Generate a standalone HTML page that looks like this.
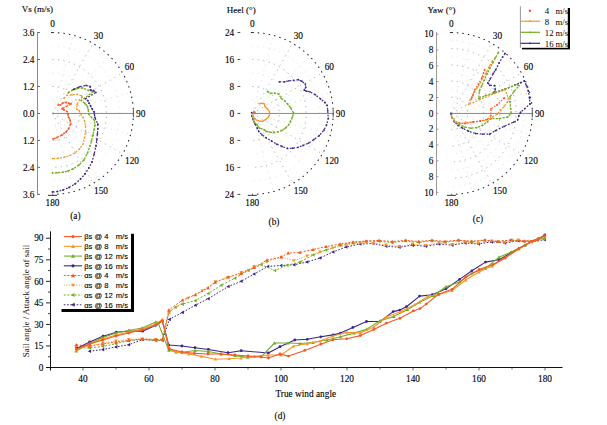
<!DOCTYPE html>
<html><head><meta charset="utf-8"><style>
html,body{margin:0;padding:0;background:#fff;}
body{width:607px;height:425px;position:relative;overflow:hidden;font-family:"Liberation Serif",serif;}
</style></head><body>
<svg width="607" height="425" viewBox="0 0 607 425" style="position:absolute;left:0;top:0">
<path d="M52.5,99.97 A13.48,13.48 0 0 1 52.5,126.93" fill="none" stroke="#d8d8e0" stroke-width="0.8" stroke-dasharray="1,4.5"/>
<path d="M52.5,73 A40.45,40.45 0 0 1 52.5,153.9" fill="none" stroke="#d8d8e0" stroke-width="0.8" stroke-dasharray="1,4.5"/>
<path d="M52.5,46.03 A67.42,67.42 0 0 1 52.5,180.87" fill="none" stroke="#d8d8e0" stroke-width="0.8" stroke-dasharray="1,4.5"/>
<path d="M52.5,86.48 A26.97,26.97 0 0 1 52.5,140.42" fill="none" stroke="#9c9cae" stroke-width="0.9" stroke-dasharray="1.2,4.3"/>
<path d="M52.5,59.52 A53.93,53.93 0 0 1 52.5,167.38" fill="none" stroke="#9c9cae" stroke-width="0.9" stroke-dasharray="1.2,4.3"/>
<line x1="52.5" y1="113.45" x2="73.44" y2="35.31" stroke="#d8d8e0" stroke-width="0.8" stroke-dasharray="1.2,4.3"/>
<line x1="52.5" y1="113.45" x2="92.95" y2="43.39" stroke="#9c9cae" stroke-width="0.8" stroke-dasharray="1.2,4.3"/>
<line x1="52.5" y1="113.45" x2="109.7" y2="56.25" stroke="#d8d8e0" stroke-width="0.8" stroke-dasharray="1.2,4.3"/>
<line x1="52.5" y1="113.45" x2="122.56" y2="73" stroke="#9c9cae" stroke-width="0.8" stroke-dasharray="1.2,4.3"/>
<line x1="52.5" y1="113.45" x2="130.64" y2="92.51" stroke="#d8d8e0" stroke-width="0.8" stroke-dasharray="1.2,4.3"/>
<line x1="52.5" y1="113.45" x2="130.64" y2="134.39" stroke="#d8d8e0" stroke-width="0.8" stroke-dasharray="1.2,4.3"/>
<line x1="52.5" y1="113.45" x2="122.56" y2="153.9" stroke="#9c9cae" stroke-width="0.8" stroke-dasharray="1.2,4.3"/>
<line x1="52.5" y1="113.45" x2="109.7" y2="170.65" stroke="#d8d8e0" stroke-width="0.8" stroke-dasharray="1.2,4.3"/>
<line x1="52.5" y1="113.45" x2="92.95" y2="183.51" stroke="#9c9cae" stroke-width="0.8" stroke-dasharray="1.2,4.3"/>
<line x1="52.5" y1="113.45" x2="73.44" y2="191.59" stroke="#d8d8e0" stroke-width="0.8" stroke-dasharray="1.2,4.3"/>
<path d="M52.5,32.55 A80.9,80.9 0 0 1 52.5,194.35" fill="none" stroke="#2e2848" stroke-width="1.1" stroke-dasharray="1.5,4"/>
<line x1="52.5" y1="113.45" x2="133.4" y2="113.45" stroke="#8a8a8a" stroke-width="1"/>
<line x1="51" y1="32.55" x2="54" y2="32.55" stroke="#333" stroke-width="1"/>
<line x1="48" y1="195.35" x2="57" y2="195.35" stroke="#333" stroke-width="1"/>
<line x1="133.4" y1="109.45" x2="133.4" y2="117.45" stroke="#555" stroke-width="1"/>
<text x="52.5" y="27.3" font-size="9.3" text-anchor="middle" font-family="'Liberation Serif', serif" fill="#000" stroke="#000" stroke-width="0.12">0</text>
<text x="98.5" y="39.3" font-size="9.3" text-anchor="middle" font-family="'Liberation Serif', serif" fill="#000" stroke="#000" stroke-width="0.12">30</text>
<text x="129.5" y="69.7" font-size="9.3" text-anchor="middle" font-family="'Liberation Serif', serif" fill="#000" stroke="#000" stroke-width="0.12">60</text>
<text x="136" y="116.6" font-size="9.3" text-anchor="start" font-family="'Liberation Serif', serif" fill="#000" stroke="#000" stroke-width="0.12">90</text>
<text x="132" y="163.6" font-size="9.3" text-anchor="middle" font-family="'Liberation Serif', serif" fill="#000" stroke="#000" stroke-width="0.12">120</text>
<text x="101" y="194.2" font-size="9.3" text-anchor="middle" font-family="'Liberation Serif', serif" fill="#000" stroke="#000" stroke-width="0.12">150</text>
<text x="52.5" y="205.6" font-size="9.3" text-anchor="middle" font-family="'Liberation Serif', serif" fill="#000" stroke="#000" stroke-width="0.12">180</text>
<line x1="37.5" y1="32.05" x2="37.5" y2="194.85" stroke="#8a8a8a" stroke-width="1"/>
<line x1="37.5" y1="32.55" x2="40" y2="32.55" stroke="#666" stroke-width="1"/>
<text x="34.5" y="35.75" font-size="9.3" text-anchor="end" font-family="'Liberation Serif', serif" fill="#000" stroke="#000" stroke-width="0.12">3.6</text>
<line x1="37.5" y1="59.52" x2="40" y2="59.52" stroke="#666" stroke-width="1"/>
<text x="34.5" y="62.72" font-size="9.3" text-anchor="end" font-family="'Liberation Serif', serif" fill="#000" stroke="#000" stroke-width="0.12">2.4</text>
<line x1="37.5" y1="86.48" x2="40" y2="86.48" stroke="#666" stroke-width="1"/>
<text x="34.5" y="89.68" font-size="9.3" text-anchor="end" font-family="'Liberation Serif', serif" fill="#000" stroke="#000" stroke-width="0.12">1.2</text>
<line x1="37.5" y1="113.45" x2="40" y2="113.45" stroke="#666" stroke-width="1"/>
<text x="34.5" y="116.65" font-size="9.3" text-anchor="end" font-family="'Liberation Serif', serif" fill="#000" stroke="#000" stroke-width="0.12">0.0</text>
<line x1="37.5" y1="140.42" x2="40" y2="140.42" stroke="#666" stroke-width="1"/>
<text x="34.5" y="143.62" font-size="9.3" text-anchor="end" font-family="'Liberation Serif', serif" fill="#000" stroke="#000" stroke-width="0.12">1.2</text>
<line x1="37.5" y1="167.38" x2="40" y2="167.38" stroke="#666" stroke-width="1"/>
<text x="34.5" y="170.58" font-size="9.3" text-anchor="end" font-family="'Liberation Serif', serif" fill="#000" stroke="#000" stroke-width="0.12">2.4</text>
<line x1="37.5" y1="194.35" x2="40" y2="194.35" stroke="#666" stroke-width="1"/>
<text x="34.5" y="197.55" font-size="9.3" text-anchor="end" font-family="'Liberation Serif', serif" fill="#000" stroke="#000" stroke-width="0.12">3.6</text>
<text x="21.8" y="12.4" font-size="9" text-anchor="start" font-family="'Liberation Serif', serif" fill="#000" stroke="#000" stroke-width="0.12">Vs (m/s)</text>
<text x="75.4" y="219.4" font-size="9.3" text-anchor="middle" font-family="'Liberation Serif', serif" fill="#000" stroke="#000" stroke-width="0.12">(a)</text>
<polyline points="58.1,104.9 60.6,104.9 63.1,102.8 66.2,102.4 68.7,103.1 71.2,103.8 62,108.8 64.1,109.8 67.3,111.6 67.8,114 68.5,117 70.1,120 70.6,124 68.5,129 66,132 62,135 57,137.5 53,139" fill="none" stroke="#f65823" stroke-width="1.3" stroke-linejoin="round" stroke-dasharray="2.6,1"/>
<circle cx="58.1" cy="104.9" r="0.9" fill="#f65823"/>
<circle cx="60.6" cy="104.9" r="0.9" fill="#f65823"/>
<circle cx="63.1" cy="102.8" r="0.9" fill="#f65823"/>
<circle cx="66.2" cy="102.4" r="0.9" fill="#f65823"/>
<circle cx="68.7" cy="103.1" r="0.9" fill="#f65823"/>
<circle cx="71.2" cy="103.8" r="0.9" fill="#f65823"/>
<circle cx="62" cy="108.8" r="0.9" fill="#f65823"/>
<circle cx="64.1" cy="109.8" r="0.9" fill="#f65823"/>
<circle cx="67.3" cy="111.6" r="0.9" fill="#f65823"/>
<circle cx="67.8" cy="114" r="0.9" fill="#f65823"/>
<circle cx="68.5" cy="117" r="0.9" fill="#f65823"/>
<circle cx="70.1" cy="120" r="0.9" fill="#f65823"/>
<circle cx="70.6" cy="124" r="0.9" fill="#f65823"/>
<circle cx="68.5" cy="129" r="0.9" fill="#f65823"/>
<circle cx="66" cy="132" r="0.9" fill="#f65823"/>
<circle cx="62" cy="135" r="0.9" fill="#f65823"/>
<circle cx="57" cy="137.5" r="0.9" fill="#f65823"/>
<circle cx="53" cy="139" r="0.9" fill="#f65823"/>
<polyline points="63.8,98.3 67.2,95.3 71.7,94.8 77.1,94.3 81.6,95.8 82.2,97 79.4,100.2 77,104.4 76.6,109.1 78.9,110.5 81.3,114.8 83.2,117.6 84.6,121.3 85.5,126 85.5,132 84.5,138 83,144 79.5,149 75,153 70,155.5 65,157 58.5,158.3 52.5,158.6" fill="none" stroke="#f6962a" stroke-width="1.2" stroke-linejoin="round" stroke-dasharray="2,1.4"/>
<circle cx="63.8" cy="98.3" r="0.8" fill="#f6962a"/>
<circle cx="67.2" cy="95.3" r="0.8" fill="#f6962a"/>
<circle cx="71.7" cy="94.8" r="0.8" fill="#f6962a"/>
<circle cx="77.1" cy="94.3" r="0.8" fill="#f6962a"/>
<circle cx="81.6" cy="95.8" r="0.8" fill="#f6962a"/>
<circle cx="82.2" cy="97" r="0.8" fill="#f6962a"/>
<circle cx="79.4" cy="100.2" r="0.8" fill="#f6962a"/>
<circle cx="77" cy="104.4" r="0.8" fill="#f6962a"/>
<circle cx="76.6" cy="109.1" r="0.8" fill="#f6962a"/>
<circle cx="78.9" cy="110.5" r="0.8" fill="#f6962a"/>
<circle cx="81.3" cy="114.8" r="0.8" fill="#f6962a"/>
<circle cx="83.2" cy="117.6" r="0.8" fill="#f6962a"/>
<circle cx="84.6" cy="121.3" r="0.8" fill="#f6962a"/>
<circle cx="85.5" cy="126" r="0.8" fill="#f6962a"/>
<circle cx="85.5" cy="132" r="0.8" fill="#f6962a"/>
<circle cx="84.5" cy="138" r="0.8" fill="#f6962a"/>
<circle cx="83" cy="144" r="0.8" fill="#f6962a"/>
<circle cx="79.5" cy="149" r="0.8" fill="#f6962a"/>
<circle cx="75" cy="153" r="0.8" fill="#f6962a"/>
<circle cx="70" cy="155.5" r="0.8" fill="#f6962a"/>
<circle cx="65" cy="157" r="0.8" fill="#f6962a"/>
<circle cx="58.5" cy="158.3" r="0.8" fill="#f6962a"/>
<circle cx="52.5" cy="158.6" r="0.8" fill="#f6962a"/>
<polyline points="68.2,92.8 72.5,90 77,88.4 82.5,87.9 88.5,90.4 93.4,91.4 81.3,100.6 85,103.5 87.4,106.3 88.3,110 88.8,113.8 91.6,117.6 94.5,120.4 94.9,125.1 94,130 93,135 91.5,141 90,146 87.5,153 84,160 79,165 73,169 68,171 63,172.2 57,172.8 52.5,173" fill="none" stroke="#71ae20" stroke-width="1.3" stroke-linejoin="round" stroke-dasharray="2.2,1.2"/>
<circle cx="68.2" cy="92.8" r="0.9" fill="#71ae20"/>
<circle cx="72.5" cy="90" r="0.9" fill="#71ae20"/>
<circle cx="77" cy="88.4" r="0.9" fill="#71ae20"/>
<circle cx="82.5" cy="87.9" r="0.9" fill="#71ae20"/>
<circle cx="88.5" cy="90.4" r="0.9" fill="#71ae20"/>
<circle cx="93.4" cy="91.4" r="0.9" fill="#71ae20"/>
<circle cx="81.3" cy="100.6" r="0.9" fill="#71ae20"/>
<circle cx="85" cy="103.5" r="0.9" fill="#71ae20"/>
<circle cx="87.4" cy="106.3" r="0.9" fill="#71ae20"/>
<circle cx="88.3" cy="110" r="0.9" fill="#71ae20"/>
<circle cx="88.8" cy="113.8" r="0.9" fill="#71ae20"/>
<circle cx="91.6" cy="117.6" r="0.9" fill="#71ae20"/>
<circle cx="94.5" cy="120.4" r="0.9" fill="#71ae20"/>
<circle cx="94.9" cy="125.1" r="0.9" fill="#71ae20"/>
<circle cx="94" cy="130" r="0.9" fill="#71ae20"/>
<circle cx="93" cy="135" r="0.9" fill="#71ae20"/>
<circle cx="91.5" cy="141" r="0.9" fill="#71ae20"/>
<circle cx="90" cy="146" r="0.9" fill="#71ae20"/>
<circle cx="87.5" cy="153" r="0.9" fill="#71ae20"/>
<circle cx="84" cy="160" r="0.9" fill="#71ae20"/>
<circle cx="79" cy="165" r="0.9" fill="#71ae20"/>
<circle cx="73" cy="169" r="0.9" fill="#71ae20"/>
<circle cx="68" cy="171" r="0.9" fill="#71ae20"/>
<circle cx="63" cy="172.2" r="0.9" fill="#71ae20"/>
<circle cx="57" cy="172.8" r="0.9" fill="#71ae20"/>
<circle cx="52.5" cy="173" r="0.9" fill="#71ae20"/>
<polyline points="73.7,89.4 79.1,86.9 86,85.4 90,86.4 90.5,89.9 93.4,90.4 95.9,92.4 85.5,98.8 88,100.8 89,103.2 90.5,105.7 92,108.7 94,111.6 94.4,114.1 94.9,117.5 97.8,124.2 97.8,128.9 97.4,134 96.8,140 96,146 94.2,154 92,162 88.8,168 85,174 80.5,179 75,184 69,187.5 63,190 57.5,191.5 52.5,192" fill="none" stroke="#3c2688" stroke-width="1.2" stroke-linejoin="round" stroke-dasharray="1.8,1.6"/>
<circle cx="73.7" cy="89.4" r="0.9" fill="#3c2688"/>
<circle cx="79.1" cy="86.9" r="0.9" fill="#3c2688"/>
<circle cx="86" cy="85.4" r="0.9" fill="#3c2688"/>
<circle cx="90" cy="86.4" r="0.9" fill="#3c2688"/>
<circle cx="90.5" cy="89.9" r="0.9" fill="#3c2688"/>
<circle cx="93.4" cy="90.4" r="0.9" fill="#3c2688"/>
<circle cx="95.9" cy="92.4" r="0.9" fill="#3c2688"/>
<circle cx="85.5" cy="98.8" r="0.9" fill="#3c2688"/>
<circle cx="88" cy="100.8" r="0.9" fill="#3c2688"/>
<circle cx="89" cy="103.2" r="0.9" fill="#3c2688"/>
<circle cx="90.5" cy="105.7" r="0.9" fill="#3c2688"/>
<circle cx="92" cy="108.7" r="0.9" fill="#3c2688"/>
<circle cx="94" cy="111.6" r="0.9" fill="#3c2688"/>
<circle cx="94.4" cy="114.1" r="0.9" fill="#3c2688"/>
<circle cx="94.9" cy="117.5" r="0.9" fill="#3c2688"/>
<circle cx="97.8" cy="124.2" r="0.9" fill="#3c2688"/>
<circle cx="97.8" cy="128.9" r="0.9" fill="#3c2688"/>
<circle cx="97.4" cy="134" r="0.9" fill="#3c2688"/>
<circle cx="96.8" cy="140" r="0.9" fill="#3c2688"/>
<circle cx="96" cy="146" r="0.9" fill="#3c2688"/>
<circle cx="94.2" cy="154" r="0.9" fill="#3c2688"/>
<circle cx="92" cy="162" r="0.9" fill="#3c2688"/>
<circle cx="88.8" cy="168" r="0.9" fill="#3c2688"/>
<circle cx="85" cy="174" r="0.9" fill="#3c2688"/>
<circle cx="80.5" cy="179" r="0.9" fill="#3c2688"/>
<circle cx="75" cy="184" r="0.9" fill="#3c2688"/>
<circle cx="69" cy="187.5" r="0.9" fill="#3c2688"/>
<circle cx="63" cy="190" r="0.9" fill="#3c2688"/>
<circle cx="57.5" cy="191.5" r="0.9" fill="#3c2688"/>
<circle cx="52.5" cy="192" r="0.9" fill="#3c2688"/>
<path d="M252.3,99.97 A13.48,13.48 0 0 1 252.3,126.93" fill="none" stroke="#d8d8e0" stroke-width="0.8" stroke-dasharray="1,4.5"/>
<path d="M252.3,73 A40.45,40.45 0 0 1 252.3,153.9" fill="none" stroke="#d8d8e0" stroke-width="0.8" stroke-dasharray="1,4.5"/>
<path d="M252.3,46.03 A67.42,67.42 0 0 1 252.3,180.87" fill="none" stroke="#d8d8e0" stroke-width="0.8" stroke-dasharray="1,4.5"/>
<path d="M252.3,86.48 A26.97,26.97 0 0 1 252.3,140.42" fill="none" stroke="#9c9cae" stroke-width="0.9" stroke-dasharray="1.2,4.3"/>
<path d="M252.3,59.52 A53.93,53.93 0 0 1 252.3,167.38" fill="none" stroke="#9c9cae" stroke-width="0.9" stroke-dasharray="1.2,4.3"/>
<line x1="252.3" y1="113.45" x2="273.24" y2="35.31" stroke="#d8d8e0" stroke-width="0.8" stroke-dasharray="1.2,4.3"/>
<line x1="252.3" y1="113.45" x2="292.75" y2="43.39" stroke="#9c9cae" stroke-width="0.8" stroke-dasharray="1.2,4.3"/>
<line x1="252.3" y1="113.45" x2="309.5" y2="56.25" stroke="#d8d8e0" stroke-width="0.8" stroke-dasharray="1.2,4.3"/>
<line x1="252.3" y1="113.45" x2="322.36" y2="73" stroke="#9c9cae" stroke-width="0.8" stroke-dasharray="1.2,4.3"/>
<line x1="252.3" y1="113.45" x2="330.44" y2="92.51" stroke="#d8d8e0" stroke-width="0.8" stroke-dasharray="1.2,4.3"/>
<line x1="252.3" y1="113.45" x2="330.44" y2="134.39" stroke="#d8d8e0" stroke-width="0.8" stroke-dasharray="1.2,4.3"/>
<line x1="252.3" y1="113.45" x2="322.36" y2="153.9" stroke="#9c9cae" stroke-width="0.8" stroke-dasharray="1.2,4.3"/>
<line x1="252.3" y1="113.45" x2="309.5" y2="170.65" stroke="#d8d8e0" stroke-width="0.8" stroke-dasharray="1.2,4.3"/>
<line x1="252.3" y1="113.45" x2="292.75" y2="183.51" stroke="#9c9cae" stroke-width="0.8" stroke-dasharray="1.2,4.3"/>
<line x1="252.3" y1="113.45" x2="273.24" y2="191.59" stroke="#d8d8e0" stroke-width="0.8" stroke-dasharray="1.2,4.3"/>
<path d="M252.3,32.55 A80.9,80.9 0 0 1 252.3,194.35" fill="none" stroke="#2e2848" stroke-width="1.1" stroke-dasharray="1.5,4"/>
<line x1="252.3" y1="113.45" x2="333.2" y2="113.45" stroke="#8a8a8a" stroke-width="1"/>
<line x1="250.8" y1="32.55" x2="253.8" y2="32.55" stroke="#333" stroke-width="1"/>
<line x1="247.8" y1="195.35" x2="256.8" y2="195.35" stroke="#333" stroke-width="1"/>
<line x1="333.2" y1="109.45" x2="333.2" y2="117.45" stroke="#555" stroke-width="1"/>
<text x="252.3" y="27.3" font-size="9.3" text-anchor="middle" font-family="'Liberation Serif', serif" fill="#000" stroke="#000" stroke-width="0.12">0</text>
<text x="298.3" y="39.3" font-size="9.3" text-anchor="middle" font-family="'Liberation Serif', serif" fill="#000" stroke="#000" stroke-width="0.12">30</text>
<text x="329.3" y="69.7" font-size="9.3" text-anchor="middle" font-family="'Liberation Serif', serif" fill="#000" stroke="#000" stroke-width="0.12">60</text>
<text x="335.8" y="116.6" font-size="9.3" text-anchor="start" font-family="'Liberation Serif', serif" fill="#000" stroke="#000" stroke-width="0.12">90</text>
<text x="331.8" y="163.6" font-size="9.3" text-anchor="middle" font-family="'Liberation Serif', serif" fill="#000" stroke="#000" stroke-width="0.12">120</text>
<text x="300.8" y="194.2" font-size="9.3" text-anchor="middle" font-family="'Liberation Serif', serif" fill="#000" stroke="#000" stroke-width="0.12">150</text>
<text x="252.3" y="205.6" font-size="9.3" text-anchor="middle" font-family="'Liberation Serif', serif" fill="#000" stroke="#000" stroke-width="0.12">180</text>
<line x1="237.5" y1="32.55" x2="240.3" y2="32.55" stroke="#333" stroke-width="0.9"/>
<text x="234.2" y="35.75" font-size="9.3" text-anchor="end" font-family="'Liberation Serif', serif" fill="#000" stroke="#000" stroke-width="0.12">24</text>
<line x1="237.5" y1="59.52" x2="240.3" y2="59.52" stroke="#333" stroke-width="0.9"/>
<text x="234.2" y="62.72" font-size="9.3" text-anchor="end" font-family="'Liberation Serif', serif" fill="#000" stroke="#000" stroke-width="0.12">16</text>
<line x1="237.5" y1="86.48" x2="240.3" y2="86.48" stroke="#333" stroke-width="0.9"/>
<text x="234.2" y="89.68" font-size="9.3" text-anchor="end" font-family="'Liberation Serif', serif" fill="#000" stroke="#000" stroke-width="0.12">8</text>
<line x1="237.5" y1="113.45" x2="240.3" y2="113.45" stroke="#333" stroke-width="0.9"/>
<text x="234.2" y="116.65" font-size="9.3" text-anchor="end" font-family="'Liberation Serif', serif" fill="#000" stroke="#000" stroke-width="0.12">0</text>
<line x1="237.5" y1="140.42" x2="240.3" y2="140.42" stroke="#333" stroke-width="0.9"/>
<text x="234.2" y="143.62" font-size="9.3" text-anchor="end" font-family="'Liberation Serif', serif" fill="#000" stroke="#000" stroke-width="0.12">8</text>
<line x1="237.5" y1="167.38" x2="240.3" y2="167.38" stroke="#333" stroke-width="0.9"/>
<text x="234.2" y="170.58" font-size="9.3" text-anchor="end" font-family="'Liberation Serif', serif" fill="#000" stroke="#000" stroke-width="0.12">16</text>
<line x1="237.5" y1="194.35" x2="240.3" y2="194.35" stroke="#333" stroke-width="0.9"/>
<text x="234.2" y="197.55" font-size="9.3" text-anchor="end" font-family="'Liberation Serif', serif" fill="#000" stroke="#000" stroke-width="0.12">24</text>
<text x="226.8" y="13" font-size="9" text-anchor="start" font-family="'Liberation Serif', serif" fill="#000" stroke="#000" stroke-width="0.12">Heel (°)</text>
<text x="274" y="224.5" font-size="9.3" text-anchor="middle" font-family="'Liberation Serif', serif" fill="#000" stroke="#000" stroke-width="0.12">(b)</text>
<polyline points="279.4,81.8 284.7,81.8 288.8,80.8 293.6,80.4 298.3,79.7 301.8,81.2 305.3,84.1 305.9,87.1 304.2,90 306.5,91.2 310,91.8 315.3,94.7 320.6,98.9 324.8,102.4 327.1,105.3 327.7,110.6 328.3,118.3 326.5,125 324,130 319.2,135.7 314,139.5 308.6,143.1 303,145.5 298,147.3 292.5,148.2 287.4,148.4 282,146.5 276.8,144.2 271.5,141 266.2,137.8 262,134.8 258.8,131.4 257.4,128.4 254.9,123.8 253.2,119.7 252,116.4 251.6,112.7" fill="none" stroke="#3c2688" stroke-width="1.2" stroke-linejoin="round" stroke-dasharray="1.8,1.6"/>
<circle cx="279.4" cy="81.8" r="0.9" fill="#3c2688"/>
<circle cx="284.7" cy="81.8" r="0.9" fill="#3c2688"/>
<circle cx="288.8" cy="80.8" r="0.9" fill="#3c2688"/>
<circle cx="293.6" cy="80.4" r="0.9" fill="#3c2688"/>
<circle cx="298.3" cy="79.7" r="0.9" fill="#3c2688"/>
<circle cx="301.8" cy="81.2" r="0.9" fill="#3c2688"/>
<circle cx="305.3" cy="84.1" r="0.9" fill="#3c2688"/>
<circle cx="305.9" cy="87.1" r="0.9" fill="#3c2688"/>
<circle cx="304.2" cy="90" r="0.9" fill="#3c2688"/>
<circle cx="306.5" cy="91.2" r="0.9" fill="#3c2688"/>
<circle cx="310" cy="91.8" r="0.9" fill="#3c2688"/>
<circle cx="315.3" cy="94.7" r="0.9" fill="#3c2688"/>
<circle cx="320.6" cy="98.9" r="0.9" fill="#3c2688"/>
<circle cx="324.8" cy="102.4" r="0.9" fill="#3c2688"/>
<circle cx="327.1" cy="105.3" r="0.9" fill="#3c2688"/>
<circle cx="327.7" cy="110.6" r="0.9" fill="#3c2688"/>
<circle cx="328.3" cy="118.3" r="0.9" fill="#3c2688"/>
<circle cx="326.5" cy="125" r="0.9" fill="#3c2688"/>
<circle cx="324" cy="130" r="0.9" fill="#3c2688"/>
<circle cx="319.2" cy="135.7" r="0.9" fill="#3c2688"/>
<circle cx="314" cy="139.5" r="0.9" fill="#3c2688"/>
<circle cx="308.6" cy="143.1" r="0.9" fill="#3c2688"/>
<circle cx="303" cy="145.5" r="0.9" fill="#3c2688"/>
<circle cx="298" cy="147.3" r="0.9" fill="#3c2688"/>
<circle cx="292.5" cy="148.2" r="0.9" fill="#3c2688"/>
<circle cx="287.4" cy="148.4" r="0.9" fill="#3c2688"/>
<circle cx="282" cy="146.5" r="0.9" fill="#3c2688"/>
<circle cx="276.8" cy="144.2" r="0.9" fill="#3c2688"/>
<circle cx="271.5" cy="141" r="0.9" fill="#3c2688"/>
<circle cx="266.2" cy="137.8" r="0.9" fill="#3c2688"/>
<circle cx="262" cy="134.8" r="0.9" fill="#3c2688"/>
<circle cx="258.8" cy="131.4" r="0.9" fill="#3c2688"/>
<circle cx="257.4" cy="128.4" r="0.9" fill="#3c2688"/>
<circle cx="254.9" cy="123.8" r="0.9" fill="#3c2688"/>
<circle cx="253.2" cy="119.7" r="0.9" fill="#3c2688"/>
<circle cx="252" cy="116.4" r="0.9" fill="#3c2688"/>
<circle cx="251.6" cy="112.7" r="0.9" fill="#3c2688"/>
<polyline points="267.5,91.5 270.5,93.3 274.7,93.2 278.8,94.1 281.2,98.3 284.7,100.9 287.7,104.2 290.6,107.7 293.6,113 292.4,117.1 290.5,121.5 288.4,125.1 285.5,128 282.1,130.4 278,131.8 273.6,132.5 270,132.2 266.2,131.4 264,129.6 259.8,128.3 257.4,125.5 254,121.4 253,116.6" fill="none" stroke="#71ae20" stroke-width="1.3" stroke-linejoin="round" stroke-dasharray="2.2,1.2"/>
<circle cx="267.5" cy="91.5" r="0.9" fill="#71ae20"/>
<circle cx="270.5" cy="93.3" r="0.9" fill="#71ae20"/>
<circle cx="274.7" cy="93.2" r="0.9" fill="#71ae20"/>
<circle cx="278.8" cy="94.1" r="0.9" fill="#71ae20"/>
<circle cx="281.2" cy="98.3" r="0.9" fill="#71ae20"/>
<circle cx="284.7" cy="100.9" r="0.9" fill="#71ae20"/>
<circle cx="287.7" cy="104.2" r="0.9" fill="#71ae20"/>
<circle cx="290.6" cy="107.7" r="0.9" fill="#71ae20"/>
<circle cx="293.6" cy="113" r="0.9" fill="#71ae20"/>
<circle cx="292.4" cy="117.1" r="0.9" fill="#71ae20"/>
<circle cx="290.5" cy="121.5" r="0.9" fill="#71ae20"/>
<circle cx="288.4" cy="125.1" r="0.9" fill="#71ae20"/>
<circle cx="285.5" cy="128" r="0.9" fill="#71ae20"/>
<circle cx="282.1" cy="130.4" r="0.9" fill="#71ae20"/>
<circle cx="278" cy="131.8" r="0.9" fill="#71ae20"/>
<circle cx="273.6" cy="132.5" r="0.9" fill="#71ae20"/>
<circle cx="270" cy="132.2" r="0.9" fill="#71ae20"/>
<circle cx="266.2" cy="131.4" r="0.9" fill="#71ae20"/>
<circle cx="264" cy="129.6" r="0.9" fill="#71ae20"/>
<circle cx="259.8" cy="128.3" r="0.9" fill="#71ae20"/>
<circle cx="257.4" cy="125.5" r="0.9" fill="#71ae20"/>
<circle cx="254" cy="121.4" r="0.9" fill="#71ae20"/>
<circle cx="253" cy="116.6" r="0.9" fill="#71ae20"/>
<polyline points="258.6,104.1 261.5,103.2 264.4,103.6 264.8,106.5 267.2,108.6 269.3,111.1 269.7,114 268.5,117.2 265.6,119.7 262.3,121.4 259,121 255.7,119.7 253.6,117.2 252.8,114.8" fill="none" stroke="#f6962a" stroke-width="1.4" stroke-linejoin="round"/>
<polygon points="253.2,110.6 255.3,111.5 256.1,113.5 253.2,114 253.2,110.6" fill="#f65823"/>
<path d="M451.4,105.36 A8.09,8.09 0 0 1 451.4,121.54" fill="none" stroke="#d8d8e0" stroke-width="0.8" stroke-dasharray="1,4.5"/>
<path d="M451.4,89.18 A24.27,24.27 0 0 1 451.4,137.72" fill="none" stroke="#d8d8e0" stroke-width="0.8" stroke-dasharray="1,4.5"/>
<path d="M451.4,73 A40.45,40.45 0 0 1 451.4,153.9" fill="none" stroke="#d8d8e0" stroke-width="0.8" stroke-dasharray="1,4.5"/>
<path d="M451.4,56.82 A56.63,56.63 0 0 1 451.4,170.08" fill="none" stroke="#d8d8e0" stroke-width="0.8" stroke-dasharray="1,4.5"/>
<path d="M451.4,40.64 A72.81,72.81 0 0 1 451.4,186.26" fill="none" stroke="#d8d8e0" stroke-width="0.8" stroke-dasharray="1,4.5"/>
<path d="M451.4,97.27 A16.18,16.18 0 0 1 451.4,129.63" fill="none" stroke="#9c9cae" stroke-width="0.9" stroke-dasharray="1.2,4.3"/>
<path d="M451.4,81.09 A32.36,32.36 0 0 1 451.4,145.81" fill="none" stroke="#9c9cae" stroke-width="0.9" stroke-dasharray="1.2,4.3"/>
<path d="M451.4,64.91 A48.54,48.54 0 0 1 451.4,161.99" fill="none" stroke="#9c9cae" stroke-width="0.9" stroke-dasharray="1.2,4.3"/>
<path d="M451.4,48.73 A64.72,64.72 0 0 1 451.4,178.17" fill="none" stroke="#9c9cae" stroke-width="0.9" stroke-dasharray="1.2,4.3"/>
<line x1="451.4" y1="113.45" x2="472.34" y2="35.31" stroke="#d8d8e0" stroke-width="0.8" stroke-dasharray="1.2,4.3"/>
<line x1="451.4" y1="113.45" x2="491.85" y2="43.39" stroke="#9c9cae" stroke-width="0.8" stroke-dasharray="1.2,4.3"/>
<line x1="451.4" y1="113.45" x2="508.6" y2="56.25" stroke="#d8d8e0" stroke-width="0.8" stroke-dasharray="1.2,4.3"/>
<line x1="451.4" y1="113.45" x2="521.46" y2="73" stroke="#9c9cae" stroke-width="0.8" stroke-dasharray="1.2,4.3"/>
<line x1="451.4" y1="113.45" x2="529.54" y2="92.51" stroke="#d8d8e0" stroke-width="0.8" stroke-dasharray="1.2,4.3"/>
<line x1="451.4" y1="113.45" x2="529.54" y2="134.39" stroke="#d8d8e0" stroke-width="0.8" stroke-dasharray="1.2,4.3"/>
<line x1="451.4" y1="113.45" x2="521.46" y2="153.9" stroke="#9c9cae" stroke-width="0.8" stroke-dasharray="1.2,4.3"/>
<line x1="451.4" y1="113.45" x2="508.6" y2="170.65" stroke="#d8d8e0" stroke-width="0.8" stroke-dasharray="1.2,4.3"/>
<line x1="451.4" y1="113.45" x2="491.85" y2="183.51" stroke="#9c9cae" stroke-width="0.8" stroke-dasharray="1.2,4.3"/>
<line x1="451.4" y1="113.45" x2="472.34" y2="191.59" stroke="#d8d8e0" stroke-width="0.8" stroke-dasharray="1.2,4.3"/>
<path d="M451.4,32.55 A80.9,80.9 0 0 1 451.4,194.35" fill="none" stroke="#2e2848" stroke-width="1.1" stroke-dasharray="1.5,4"/>
<line x1="451.4" y1="113.45" x2="532.3" y2="113.45" stroke="#8a8a8a" stroke-width="1"/>
<line x1="449.9" y1="32.55" x2="452.9" y2="32.55" stroke="#333" stroke-width="1"/>
<line x1="446.9" y1="195.35" x2="455.9" y2="195.35" stroke="#333" stroke-width="1"/>
<line x1="532.3" y1="109.45" x2="532.3" y2="117.45" stroke="#555" stroke-width="1"/>
<text x="451.4" y="27.3" font-size="9.3" text-anchor="middle" font-family="'Liberation Serif', serif" fill="#000" stroke="#000" stroke-width="0.12">0</text>
<text x="497.4" y="39.3" font-size="9.3" text-anchor="middle" font-family="'Liberation Serif', serif" fill="#000" stroke="#000" stroke-width="0.12">30</text>
<text x="528.4" y="69.7" font-size="9.3" text-anchor="middle" font-family="'Liberation Serif', serif" fill="#000" stroke="#000" stroke-width="0.12">60</text>
<text x="534.9" y="116.6" font-size="9.3" text-anchor="start" font-family="'Liberation Serif', serif" fill="#000" stroke="#000" stroke-width="0.12">90</text>
<text x="530.9" y="163.6" font-size="9.3" text-anchor="middle" font-family="'Liberation Serif', serif" fill="#000" stroke="#000" stroke-width="0.12">120</text>
<text x="499.9" y="194.2" font-size="9.3" text-anchor="middle" font-family="'Liberation Serif', serif" fill="#000" stroke="#000" stroke-width="0.12">150</text>
<text x="451.4" y="205.6" font-size="9.3" text-anchor="middle" font-family="'Liberation Serif', serif" fill="#000" stroke="#000" stroke-width="0.12">180</text>
<line x1="436.5" y1="32.05" x2="436.5" y2="195.35" stroke="#9a9a9a" stroke-width="1"/>
<text x="433.5" y="37.4" font-size="9.3" text-anchor="end" font-family="'Liberation Serif', serif" fill="#000" stroke="#000" stroke-width="0.12">10</text>
<line x1="436.5" y1="34.2" x2="438.5" y2="34.2" stroke="#888" stroke-width="0.8"/>
<text x="433.5" y="53.22" font-size="9.3" text-anchor="end" font-family="'Liberation Serif', serif" fill="#000" stroke="#000" stroke-width="0.12">8</text>
<line x1="436.5" y1="50.02" x2="438.5" y2="50.02" stroke="#888" stroke-width="0.8"/>
<text x="433.5" y="69.04" font-size="9.3" text-anchor="end" font-family="'Liberation Serif', serif" fill="#000" stroke="#000" stroke-width="0.12">6</text>
<line x1="436.5" y1="65.84" x2="438.5" y2="65.84" stroke="#888" stroke-width="0.8"/>
<text x="433.5" y="84.86" font-size="9.3" text-anchor="end" font-family="'Liberation Serif', serif" fill="#000" stroke="#000" stroke-width="0.12">4</text>
<line x1="436.5" y1="81.66" x2="438.5" y2="81.66" stroke="#888" stroke-width="0.8"/>
<text x="433.5" y="100.68" font-size="9.3" text-anchor="end" font-family="'Liberation Serif', serif" fill="#000" stroke="#000" stroke-width="0.12">2</text>
<line x1="436.5" y1="97.48" x2="438.5" y2="97.48" stroke="#888" stroke-width="0.8"/>
<text x="433.5" y="116.5" font-size="9.3" text-anchor="end" font-family="'Liberation Serif', serif" fill="#000" stroke="#000" stroke-width="0.12">0</text>
<line x1="436.5" y1="113.3" x2="438.5" y2="113.3" stroke="#888" stroke-width="0.8"/>
<text x="433.5" y="132.32" font-size="9.3" text-anchor="end" font-family="'Liberation Serif', serif" fill="#000" stroke="#000" stroke-width="0.12">2</text>
<line x1="436.5" y1="129.12" x2="438.5" y2="129.12" stroke="#888" stroke-width="0.8"/>
<text x="433.5" y="148.14" font-size="9.3" text-anchor="end" font-family="'Liberation Serif', serif" fill="#000" stroke="#000" stroke-width="0.12">4</text>
<line x1="436.5" y1="144.94" x2="438.5" y2="144.94" stroke="#888" stroke-width="0.8"/>
<text x="433.5" y="163.96" font-size="9.3" text-anchor="end" font-family="'Liberation Serif', serif" fill="#000" stroke="#000" stroke-width="0.12">6</text>
<line x1="436.5" y1="160.76" x2="438.5" y2="160.76" stroke="#888" stroke-width="0.8"/>
<text x="433.5" y="179.78" font-size="9.3" text-anchor="end" font-family="'Liberation Serif', serif" fill="#000" stroke="#000" stroke-width="0.12">8</text>
<line x1="436.5" y1="176.58" x2="438.5" y2="176.58" stroke="#888" stroke-width="0.8"/>
<text x="433.5" y="195.6" font-size="9.3" text-anchor="end" font-family="'Liberation Serif', serif" fill="#000" stroke="#000" stroke-width="0.12">10</text>
<line x1="436.5" y1="192.4" x2="438.5" y2="192.4" stroke="#888" stroke-width="0.8"/>
<text x="427.5" y="13" font-size="9" text-anchor="start" font-family="'Liberation Serif', serif" fill="#000" stroke="#000" stroke-width="0.12">Yaw (°)</text>
<text x="478" y="222" font-size="9.3" text-anchor="middle" font-family="'Liberation Serif', serif" fill="#000" stroke="#000" stroke-width="0.12">(c)</text>
<polyline points="505,53.5 502.6,57.1 499.1,62.9 495.6,70 493.2,73.5 490.3,78.8 487.9,82.9 489.7,85.3 494.7,85.7 495.3,89.8 493.6,92.7 505.3,89.2 514.8,85.1 520.6,82.7 524.2,81 526.5,85.7 528.3,91 529.5,98 530,104 524.8,108.6 520.6,112.2 518.9,115.7 517.7,119.8 513.6,122.2 504.2,126.3 495.4,130.6 489.7,134.1 482.6,134.1 475.6,133.5 468.5,131.2 462.6,128.2 457.9,125.3 454.4,121.8 452.1,117.6 450.9,113.5" fill="none" stroke="#3c2688" stroke-width="1.2" stroke-linejoin="round" stroke-dasharray="1.8,1.6"/>
<circle cx="505" cy="53.5" r="0.9" fill="#3c2688"/>
<circle cx="502.6" cy="57.1" r="0.9" fill="#3c2688"/>
<circle cx="499.1" cy="62.9" r="0.9" fill="#3c2688"/>
<circle cx="495.6" cy="70" r="0.9" fill="#3c2688"/>
<circle cx="493.2" cy="73.5" r="0.9" fill="#3c2688"/>
<circle cx="490.3" cy="78.8" r="0.9" fill="#3c2688"/>
<circle cx="487.9" cy="82.9" r="0.9" fill="#3c2688"/>
<circle cx="489.7" cy="85.3" r="0.9" fill="#3c2688"/>
<circle cx="494.7" cy="85.7" r="0.9" fill="#3c2688"/>
<circle cx="495.3" cy="89.8" r="0.9" fill="#3c2688"/>
<circle cx="493.6" cy="92.7" r="0.9" fill="#3c2688"/>
<circle cx="505.3" cy="89.2" r="0.9" fill="#3c2688"/>
<circle cx="514.8" cy="85.1" r="0.9" fill="#3c2688"/>
<circle cx="520.6" cy="82.7" r="0.9" fill="#3c2688"/>
<circle cx="524.2" cy="81" r="0.9" fill="#3c2688"/>
<circle cx="526.5" cy="85.7" r="0.9" fill="#3c2688"/>
<circle cx="528.3" cy="91" r="0.9" fill="#3c2688"/>
<circle cx="529.5" cy="98" r="0.9" fill="#3c2688"/>
<circle cx="530" cy="104" r="0.9" fill="#3c2688"/>
<circle cx="524.8" cy="108.6" r="0.9" fill="#3c2688"/>
<circle cx="520.6" cy="112.2" r="0.9" fill="#3c2688"/>
<circle cx="518.9" cy="115.7" r="0.9" fill="#3c2688"/>
<circle cx="517.7" cy="119.8" r="0.9" fill="#3c2688"/>
<circle cx="513.6" cy="122.2" r="0.9" fill="#3c2688"/>
<circle cx="504.2" cy="126.3" r="0.9" fill="#3c2688"/>
<circle cx="495.4" cy="130.6" r="0.9" fill="#3c2688"/>
<circle cx="489.7" cy="134.1" r="0.9" fill="#3c2688"/>
<circle cx="482.6" cy="134.1" r="0.9" fill="#3c2688"/>
<circle cx="475.6" cy="133.5" r="0.9" fill="#3c2688"/>
<circle cx="468.5" cy="131.2" r="0.9" fill="#3c2688"/>
<circle cx="462.6" cy="128.2" r="0.9" fill="#3c2688"/>
<circle cx="457.9" cy="125.3" r="0.9" fill="#3c2688"/>
<circle cx="454.4" cy="121.8" r="0.9" fill="#3c2688"/>
<circle cx="452.1" cy="117.6" r="0.9" fill="#3c2688"/>
<circle cx="450.9" cy="113.5" r="0.9" fill="#3c2688"/>
<polyline points="498.5,52.4 495.3,57.9 492.9,62.6 490,67.9 487.1,73.8 484.1,80.3 481.8,85.6 479.4,90.9 478.8,98.6 485.3,95.7 495,92.5 505,89 517.1,84.5 518.9,85.7 514,91.5 510,96.8 510,101.6 510.6,108.6 511.2,113.3 507.7,116.9 499.4,118.6 491.2,118.6 487.4,121.8 482.6,125.3 476.8,127.6 470.9,128.2 465,127.1 459.1,124.7 454.4,121.2 451.5,117.1" fill="none" stroke="#71ae20" stroke-width="1.3" stroke-linejoin="round" stroke-dasharray="2.2,1.2"/>
<circle cx="498.5" cy="52.4" r="0.9" fill="#71ae20"/>
<circle cx="495.3" cy="57.9" r="0.9" fill="#71ae20"/>
<circle cx="492.9" cy="62.6" r="0.9" fill="#71ae20"/>
<circle cx="490" cy="67.9" r="0.9" fill="#71ae20"/>
<circle cx="487.1" cy="73.8" r="0.9" fill="#71ae20"/>
<circle cx="484.1" cy="80.3" r="0.9" fill="#71ae20"/>
<circle cx="481.8" cy="85.6" r="0.9" fill="#71ae20"/>
<circle cx="479.4" cy="90.9" r="0.9" fill="#71ae20"/>
<circle cx="478.8" cy="98.6" r="0.9" fill="#71ae20"/>
<circle cx="485.3" cy="95.7" r="0.9" fill="#71ae20"/>
<circle cx="495" cy="92.5" r="0.9" fill="#71ae20"/>
<circle cx="505" cy="89" r="0.9" fill="#71ae20"/>
<circle cx="517.1" cy="84.5" r="0.9" fill="#71ae20"/>
<circle cx="518.9" cy="85.7" r="0.9" fill="#71ae20"/>
<circle cx="514" cy="91.5" r="0.9" fill="#71ae20"/>
<circle cx="510" cy="96.8" r="0.9" fill="#71ae20"/>
<circle cx="510" cy="101.6" r="0.9" fill="#71ae20"/>
<circle cx="510.6" cy="108.6" r="0.9" fill="#71ae20"/>
<circle cx="511.2" cy="113.3" r="0.9" fill="#71ae20"/>
<circle cx="507.7" cy="116.9" r="0.9" fill="#71ae20"/>
<circle cx="499.4" cy="118.6" r="0.9" fill="#71ae20"/>
<circle cx="491.2" cy="118.6" r="0.9" fill="#71ae20"/>
<circle cx="487.4" cy="121.8" r="0.9" fill="#71ae20"/>
<circle cx="482.6" cy="125.3" r="0.9" fill="#71ae20"/>
<circle cx="476.8" cy="127.6" r="0.9" fill="#71ae20"/>
<circle cx="470.9" cy="128.2" r="0.9" fill="#71ae20"/>
<circle cx="465" cy="127.1" r="0.9" fill="#71ae20"/>
<circle cx="459.1" cy="124.7" r="0.9" fill="#71ae20"/>
<circle cx="454.4" cy="121.2" r="0.9" fill="#71ae20"/>
<circle cx="451.5" cy="117.1" r="0.9" fill="#71ae20"/>
<polyline points="492.4,60.9 489.4,66.2 486.5,72.1 483.5,76.8 480.6,82.6 477.6,87.4 474.1,92.1 470,100 468.5,104.7 480,99.5 494.4,93.5 505.3,89.8 506.5,93.3 508.3,98 507.7,101.6 504.2,106.3 500.6,110.4 497.1,114.5 492.4,116.9 490.3,118.2 486.2,120 480.3,121.2 473.2,121.8 466.2,122.9 460.3,123.5 456.2,121.8 453.2,118.8 451.5,115.3" fill="none" stroke="#f6962a" stroke-width="1.2" stroke-linejoin="round" stroke-dasharray="2,1.4"/>
<circle cx="492.4" cy="60.9" r="0.8" fill="#f6962a"/>
<circle cx="489.4" cy="66.2" r="0.8" fill="#f6962a"/>
<circle cx="486.5" cy="72.1" r="0.8" fill="#f6962a"/>
<circle cx="483.5" cy="76.8" r="0.8" fill="#f6962a"/>
<circle cx="480.6" cy="82.6" r="0.8" fill="#f6962a"/>
<circle cx="477.6" cy="87.4" r="0.8" fill="#f6962a"/>
<circle cx="474.1" cy="92.1" r="0.8" fill="#f6962a"/>
<circle cx="470" cy="100" r="0.8" fill="#f6962a"/>
<circle cx="468.5" cy="104.7" r="0.8" fill="#f6962a"/>
<circle cx="480" cy="99.5" r="0.8" fill="#f6962a"/>
<circle cx="494.4" cy="93.5" r="0.8" fill="#f6962a"/>
<circle cx="505.3" cy="89.8" r="0.8" fill="#f6962a"/>
<circle cx="506.5" cy="93.3" r="0.8" fill="#f6962a"/>
<circle cx="508.3" cy="98" r="0.8" fill="#f6962a"/>
<circle cx="507.7" cy="101.6" r="0.8" fill="#f6962a"/>
<circle cx="504.2" cy="106.3" r="0.8" fill="#f6962a"/>
<circle cx="500.6" cy="110.4" r="0.8" fill="#f6962a"/>
<circle cx="497.1" cy="114.5" r="0.8" fill="#f6962a"/>
<circle cx="492.4" cy="116.9" r="0.8" fill="#f6962a"/>
<circle cx="490.3" cy="118.2" r="0.8" fill="#f6962a"/>
<circle cx="486.2" cy="120" r="0.8" fill="#f6962a"/>
<circle cx="480.3" cy="121.2" r="0.8" fill="#f6962a"/>
<circle cx="473.2" cy="121.8" r="0.8" fill="#f6962a"/>
<circle cx="466.2" cy="122.9" r="0.8" fill="#f6962a"/>
<circle cx="460.3" cy="123.5" r="0.8" fill="#f6962a"/>
<circle cx="456.2" cy="121.8" r="0.8" fill="#f6962a"/>
<circle cx="453.2" cy="118.8" r="0.8" fill="#f6962a"/>
<circle cx="451.5" cy="115.3" r="0.8" fill="#f6962a"/>
<polyline points="484.7,69.7 483.5,73.2 481.8,78 478.5,84 474.7,89.7 472.9,95.7 471.5,99" fill="none" stroke="#f65823" stroke-width="1.2" stroke-linejoin="round" stroke-dasharray="1.5,1.5"/>
<circle cx="484.7" cy="69.7" r="0.9" fill="#f65823"/>
<circle cx="483.5" cy="73.2" r="0.9" fill="#f65823"/>
<circle cx="481.8" cy="78" r="0.9" fill="#f65823"/>
<circle cx="478.5" cy="84" r="0.9" fill="#f65823"/>
<circle cx="474.7" cy="89.7" r="0.9" fill="#f65823"/>
<circle cx="472.9" cy="95.7" r="0.9" fill="#f65823"/>
<circle cx="471.5" cy="99" r="0.9" fill="#f65823"/>
<polyline points="504.2,98 497,105 490.9,108.8 490.9,115.3 487.4,119.4 480.3,121 473,122 465,123.5 459,123" fill="none" stroke="#f65823" stroke-width="1.2" stroke-linejoin="round" stroke-dasharray="1.5,1.5"/>
<circle cx="504.2" cy="98" r="0.9" fill="#f65823"/>
<circle cx="497" cy="105" r="0.9" fill="#f65823"/>
<circle cx="490.9" cy="108.8" r="0.9" fill="#f65823"/>
<circle cx="490.9" cy="115.3" r="0.9" fill="#f65823"/>
<circle cx="487.4" cy="119.4" r="0.9" fill="#f65823"/>
<circle cx="480.3" cy="121" r="0.9" fill="#f65823"/>
<circle cx="473" cy="122" r="0.9" fill="#f65823"/>
<circle cx="465" cy="123.5" r="0.9" fill="#f65823"/>
<circle cx="459" cy="123" r="0.9" fill="#f65823"/>
<rect x="522" y="8" width="48" height="41.4" fill="#000"/>
<rect x="520" y="6" width="47.8" height="41.8" fill="#fff"/>
<line x1="520.4" y1="6.3" x2="520.4" y2="47.8" stroke="#8a8a9a" stroke-width="0.9"/>
<circle cx="530" cy="10.8" r="1.2" fill="#f65823"/>
<line x1="520.5" y1="21.2" x2="540" y2="21.2" stroke="#f6962a" stroke-width="1.2"/>
<circle cx="530" cy="21.2" r="0.9" fill="#f6962a"/>
<line x1="520.5" y1="32.3" x2="540" y2="32.3" stroke="#71ae20" stroke-width="1.2"/>
<circle cx="530" cy="32.3" r="0.9" fill="#71ae20"/>
<line x1="520.5" y1="43.3" x2="540" y2="43.3" stroke="#3c2688" stroke-width="1.2"/>
<circle cx="530" cy="43.3" r="0.9" fill="#3c2688"/>
<text x="544.8" y="14.4" font-size="8.8" text-anchor="start" font-family="'Liberation Serif', serif" fill="#000" >4</text>
<text x="555.4" y="14.4" font-size="8.8" text-anchor="start" font-family="'Liberation Serif', serif" fill="#000" >m/s</text>
<text x="544.8" y="24.8" font-size="8.8" text-anchor="start" font-family="'Liberation Serif', serif" fill="#000" >8</text>
<text x="555.4" y="24.8" font-size="8.8" text-anchor="start" font-family="'Liberation Serif', serif" fill="#000" >m/s</text>
<text x="544.8" y="35.8" font-size="8.8" text-anchor="start" font-family="'Liberation Serif', serif" fill="#000" >12</text>
<text x="555.4" y="35.8" font-size="8.8" text-anchor="start" font-family="'Liberation Serif', serif" fill="#000" >m/s</text>
<text x="544.8" y="46.5" font-size="8.8" text-anchor="start" font-family="'Liberation Serif', serif" fill="#000" >16</text>
<text x="555.4" y="46.5" font-size="8.8" text-anchor="start" font-family="'Liberation Serif', serif" fill="#000" >m/s</text>
<line x1="50.5" y1="231.3" x2="50.5" y2="370.5" stroke="#111" stroke-width="1"/>
<line x1="46" y1="367.5" x2="562.5" y2="367.5" stroke="#111" stroke-width="1"/>
<line x1="46" y1="367.5" x2="50.5" y2="367.5" stroke="#111" stroke-width="0.9"/>
<text x="43.5" y="370.7" font-size="9.3" text-anchor="end" font-family="'Liberation Serif', serif" fill="#000" stroke="#000" stroke-width="0.12">0</text>
<line x1="46" y1="345.96" x2="50.5" y2="345.96" stroke="#111" stroke-width="0.9"/>
<text x="43.5" y="349.16" font-size="9.3" text-anchor="end" font-family="'Liberation Serif', serif" fill="#000" stroke="#000" stroke-width="0.12">15</text>
<line x1="46" y1="324.42" x2="50.5" y2="324.42" stroke="#111" stroke-width="0.9"/>
<text x="43.5" y="327.62" font-size="9.3" text-anchor="end" font-family="'Liberation Serif', serif" fill="#000" stroke="#000" stroke-width="0.12">30</text>
<line x1="46" y1="302.88" x2="50.5" y2="302.88" stroke="#111" stroke-width="0.9"/>
<text x="43.5" y="306.08" font-size="9.3" text-anchor="end" font-family="'Liberation Serif', serif" fill="#000" stroke="#000" stroke-width="0.12">45</text>
<line x1="46" y1="281.34" x2="50.5" y2="281.34" stroke="#111" stroke-width="0.9"/>
<text x="43.5" y="284.54" font-size="9.3" text-anchor="end" font-family="'Liberation Serif', serif" fill="#000" stroke="#000" stroke-width="0.12">60</text>
<line x1="46" y1="259.8" x2="50.5" y2="259.8" stroke="#111" stroke-width="0.9"/>
<text x="43.5" y="263" font-size="9.3" text-anchor="end" font-family="'Liberation Serif', serif" fill="#000" stroke="#000" stroke-width="0.12">75</text>
<line x1="46" y1="238.26" x2="50.5" y2="238.26" stroke="#111" stroke-width="0.9"/>
<text x="43.5" y="241.46" font-size="9.3" text-anchor="end" font-family="'Liberation Serif', serif" fill="#000" stroke="#000" stroke-width="0.12">90</text>
<line x1="48" y1="356.73" x2="50.5" y2="356.73" stroke="#111" stroke-width="0.8"/>
<line x1="48" y1="335.19" x2="50.5" y2="335.19" stroke="#111" stroke-width="0.8"/>
<line x1="48" y1="313.65" x2="50.5" y2="313.65" stroke="#111" stroke-width="0.8"/>
<line x1="48" y1="292.11" x2="50.5" y2="292.11" stroke="#111" stroke-width="0.8"/>
<line x1="48" y1="270.57" x2="50.5" y2="270.57" stroke="#111" stroke-width="0.8"/>
<line x1="48" y1="249.03" x2="50.5" y2="249.03" stroke="#111" stroke-width="0.8"/>
<line x1="83" y1="367.5" x2="83" y2="370.5" stroke="#444" stroke-width="0.8"/>
<text x="83" y="381.5" font-size="9.3" text-anchor="middle" font-family="'Liberation Serif', serif" fill="#000" stroke="#000" stroke-width="0.12">40</text>
<line x1="116" y1="367.5" x2="116" y2="369.5" stroke="#444" stroke-width="0.8"/>
<line x1="149" y1="367.5" x2="149" y2="370.5" stroke="#444" stroke-width="0.8"/>
<text x="149" y="381.5" font-size="9.3" text-anchor="middle" font-family="'Liberation Serif', serif" fill="#000" stroke="#000" stroke-width="0.12">60</text>
<line x1="182" y1="367.5" x2="182" y2="369.5" stroke="#444" stroke-width="0.8"/>
<line x1="215" y1="367.5" x2="215" y2="370.5" stroke="#444" stroke-width="0.8"/>
<text x="215" y="381.5" font-size="9.3" text-anchor="middle" font-family="'Liberation Serif', serif" fill="#000" stroke="#000" stroke-width="0.12">80</text>
<line x1="248" y1="367.5" x2="248" y2="369.5" stroke="#444" stroke-width="0.8"/>
<line x1="281" y1="367.5" x2="281" y2="370.5" stroke="#444" stroke-width="0.8"/>
<text x="281" y="381.5" font-size="9.3" text-anchor="middle" font-family="'Liberation Serif', serif" fill="#000" stroke="#000" stroke-width="0.12">100</text>
<line x1="314" y1="367.5" x2="314" y2="369.5" stroke="#444" stroke-width="0.8"/>
<line x1="347" y1="367.5" x2="347" y2="370.5" stroke="#444" stroke-width="0.8"/>
<text x="347" y="381.5" font-size="9.3" text-anchor="middle" font-family="'Liberation Serif', serif" fill="#000" stroke="#000" stroke-width="0.12">120</text>
<line x1="380" y1="367.5" x2="380" y2="369.5" stroke="#444" stroke-width="0.8"/>
<line x1="413" y1="367.5" x2="413" y2="370.5" stroke="#444" stroke-width="0.8"/>
<text x="413" y="381.5" font-size="9.3" text-anchor="middle" font-family="'Liberation Serif', serif" fill="#000" stroke="#000" stroke-width="0.12">140</text>
<line x1="446" y1="367.5" x2="446" y2="369.5" stroke="#444" stroke-width="0.8"/>
<line x1="479" y1="367.5" x2="479" y2="370.5" stroke="#444" stroke-width="0.8"/>
<text x="479" y="381.5" font-size="9.3" text-anchor="middle" font-family="'Liberation Serif', serif" fill="#000" stroke="#000" stroke-width="0.12">160</text>
<line x1="512" y1="367.5" x2="512" y2="369.5" stroke="#444" stroke-width="0.8"/>
<line x1="545" y1="367.5" x2="545" y2="370.5" stroke="#444" stroke-width="0.8"/>
<text x="545" y="381.5" font-size="9.3" text-anchor="middle" font-family="'Liberation Serif', serif" fill="#000" stroke="#000" stroke-width="0.12">180</text>
<text x="275.5" y="397" font-size="9.3" text-anchor="start" font-family="'Liberation Serif', serif" fill="#000" stroke="#000" stroke-width="0.12">True wind angle</text>
<text x="280" y="418.8" font-size="9.3" text-anchor="middle" font-family="'Liberation Serif', serif" fill="#000" stroke="#000" stroke-width="0.12">(d)</text>
<text transform="translate(28.6,301) rotate(-90)" font-size="9" text-anchor="middle" font-family="'Liberation Serif', serif" fill="#111">Sail angle / Attack angle of sail</text>
<polyline points="89.6,351.2 102.8,349.6 116,346.9 128.7,344.8 142.6,339.5 155.8,340.5 162.4,340.5 169.4,319.4 182.4,312.4 195.3,305.3 208.2,298.7 228.2,286.5 241.2,281.3 254,274 267.8,266.5 281,265.5 294.1,264.8 307,262 320,258 333,252 346,247 360,244 373,243.5 386,246.2 399.2,247.26 412.4,245.12 425.6,246.18 438.8,244.04 452,245.1 465.2,242.96 478.4,244.02 491.6,241.88 504.8,242.94 518,240.8 531.2,241.86 544.4,239.72" fill="none" stroke="#3c2688" stroke-width="1" stroke-linejoin="round" stroke-dasharray="1.6,1.6"/>
<polygon points="87.79,351.2 91.05,349.39 91.05,353.01" fill="#3c2688"/>
<polygon points="100.99,349.6 104.25,347.79 104.25,351.41" fill="#3c2688"/>
<polygon points="114.19,346.9 117.45,345.09 117.45,348.71" fill="#3c2688"/>
<polygon points="126.89,344.8 130.15,342.99 130.15,346.61" fill="#3c2688"/>
<polygon points="140.79,339.5 144.05,337.69 144.05,341.31" fill="#3c2688"/>
<polygon points="153.99,340.5 157.25,338.69 157.25,342.31" fill="#3c2688"/>
<polygon points="160.59,340.5 163.85,338.69 163.85,342.31" fill="#3c2688"/>
<polygon points="167.59,319.4 170.85,317.59 170.85,321.21" fill="#3c2688"/>
<polygon points="180.59,312.4 183.85,310.59 183.85,314.21" fill="#3c2688"/>
<polygon points="193.49,305.3 196.75,303.49 196.75,307.11" fill="#3c2688"/>
<polygon points="206.39,298.7 209.65,296.89 209.65,300.51" fill="#3c2688"/>
<polygon points="226.39,286.5 229.65,284.69 229.65,288.31" fill="#3c2688"/>
<polygon points="239.39,281.3 242.65,279.49 242.65,283.11" fill="#3c2688"/>
<polygon points="252.19,274 255.45,272.19 255.45,275.81" fill="#3c2688"/>
<polygon points="265.99,266.5 269.25,264.69 269.25,268.31" fill="#3c2688"/>
<polygon points="279.19,265.5 282.45,263.69 282.45,267.31" fill="#3c2688"/>
<polygon points="292.29,264.8 295.55,262.99 295.55,266.61" fill="#3c2688"/>
<polygon points="305.19,262 308.45,260.19 308.45,263.81" fill="#3c2688"/>
<polygon points="318.19,258 321.45,256.19 321.45,259.81" fill="#3c2688"/>
<polygon points="331.19,252 334.45,250.19 334.45,253.81" fill="#3c2688"/>
<polygon points="344.19,247 347.45,245.19 347.45,248.81" fill="#3c2688"/>
<polygon points="358.19,244 361.45,242.19 361.45,245.81" fill="#3c2688"/>
<polygon points="371.19,243.5 374.45,241.69 374.45,245.31" fill="#3c2688"/>
<polygon points="384.19,246.2 387.45,244.39 387.45,248.01" fill="#3c2688"/>
<polygon points="397.39,247.26 400.65,245.45 400.65,249.07" fill="#3c2688"/>
<polygon points="410.59,245.12 413.85,243.31 413.85,246.93" fill="#3c2688"/>
<polygon points="423.79,246.18 427.05,244.37 427.05,247.99" fill="#3c2688"/>
<polygon points="436.99,244.04 440.25,242.23 440.25,245.85" fill="#3c2688"/>
<polygon points="450.19,245.1 453.45,243.29 453.45,246.91" fill="#3c2688"/>
<polygon points="463.39,242.96 466.65,241.15 466.65,244.77" fill="#3c2688"/>
<polygon points="476.59,244.02 479.85,242.21 479.85,245.84" fill="#3c2688"/>
<polygon points="489.79,241.88 493.05,240.07 493.05,243.7" fill="#3c2688"/>
<polygon points="502.99,242.94 506.25,241.13 506.25,244.76" fill="#3c2688"/>
<polygon points="516.19,240.8 519.45,238.99 519.45,242.62" fill="#3c2688"/>
<polygon points="529.39,241.86 532.65,240.05 532.65,243.68" fill="#3c2688"/>
<polygon points="542.59,239.72 545.85,237.91 545.85,241.54" fill="#3c2688"/>
<polyline points="76.3,347.4 89.6,348 102.8,346.4 116,343.7 128.7,340.6 142,339.5 155.8,340.5 162.4,340.5 169,312.4 175.3,307.2 182.4,304.1 195.3,300.6 208.2,293.5 221.2,285.3 234.8,278.2 248.2,270.5 261.2,264.8 274.8,270.5 287,265.3 300,262 313,255 326,250 340,245.5 353,243 366,241.5 379,241.2 392.2,242.68 405.4,240.96 418.6,242.44 431.8,240.72 445,242.2 458.2,240.48 471.4,241.97 484.6,240.25 497.8,241.73 511,240.01 524.2,241.49 537.4,239.77" fill="none" stroke="#71ae20" stroke-width="1" stroke-linejoin="round" stroke-dasharray="2,1.6"/>
<polygon points="74.49,347.4 77.75,345.59 77.75,349.21" fill="#71ae20"/>
<polygon points="87.79,348 91.05,346.19 91.05,349.81" fill="#71ae20"/>
<polygon points="100.99,346.4 104.25,344.59 104.25,348.21" fill="#71ae20"/>
<polygon points="114.19,343.7 117.45,341.89 117.45,345.51" fill="#71ae20"/>
<polygon points="126.89,340.6 130.15,338.79 130.15,342.41" fill="#71ae20"/>
<polygon points="140.19,339.5 143.45,337.69 143.45,341.31" fill="#71ae20"/>
<polygon points="153.99,340.5 157.25,338.69 157.25,342.31" fill="#71ae20"/>
<polygon points="160.59,340.5 163.85,338.69 163.85,342.31" fill="#71ae20"/>
<polygon points="167.19,312.4 170.45,310.59 170.45,314.21" fill="#71ae20"/>
<polygon points="173.49,307.2 176.75,305.39 176.75,309.01" fill="#71ae20"/>
<polygon points="180.59,304.1 183.85,302.29 183.85,305.91" fill="#71ae20"/>
<polygon points="193.49,300.6 196.75,298.79 196.75,302.41" fill="#71ae20"/>
<polygon points="206.39,293.5 209.65,291.69 209.65,295.31" fill="#71ae20"/>
<polygon points="219.39,285.3 222.65,283.49 222.65,287.11" fill="#71ae20"/>
<polygon points="232.99,278.2 236.25,276.39 236.25,280.01" fill="#71ae20"/>
<polygon points="246.39,270.5 249.65,268.69 249.65,272.31" fill="#71ae20"/>
<polygon points="259.39,264.8 262.65,262.99 262.65,266.61" fill="#71ae20"/>
<polygon points="272.99,270.5 276.25,268.69 276.25,272.31" fill="#71ae20"/>
<polygon points="285.19,265.3 288.45,263.49 288.45,267.11" fill="#71ae20"/>
<polygon points="298.19,262 301.45,260.19 301.45,263.81" fill="#71ae20"/>
<polygon points="311.19,255 314.45,253.19 314.45,256.81" fill="#71ae20"/>
<polygon points="324.19,250 327.45,248.19 327.45,251.81" fill="#71ae20"/>
<polygon points="338.19,245.5 341.45,243.69 341.45,247.31" fill="#71ae20"/>
<polygon points="351.19,243 354.45,241.19 354.45,244.81" fill="#71ae20"/>
<polygon points="364.19,241.5 367.45,239.69 367.45,243.31" fill="#71ae20"/>
<polygon points="377.19,241.2 380.45,239.39 380.45,243.01" fill="#71ae20"/>
<polygon points="390.39,242.68 393.65,240.87 393.65,244.49" fill="#71ae20"/>
<polygon points="403.59,240.96 406.85,239.15 406.85,242.77" fill="#71ae20"/>
<polygon points="416.79,242.44 420.05,240.63 420.05,244.25" fill="#71ae20"/>
<polygon points="429.99,240.72 433.25,238.91 433.25,242.54" fill="#71ae20"/>
<polygon points="443.19,242.2 446.45,240.39 446.45,244.02" fill="#71ae20"/>
<polygon points="456.39,240.48 459.65,238.67 459.65,242.3" fill="#71ae20"/>
<polygon points="469.59,241.97 472.85,240.15 472.85,243.78" fill="#71ae20"/>
<polygon points="482.79,240.25 486.05,238.43 486.05,242.06" fill="#71ae20"/>
<polygon points="495.99,241.73 499.25,239.91 499.25,243.54" fill="#71ae20"/>
<polygon points="509.19,240.01 512.45,238.19 512.45,241.82" fill="#71ae20"/>
<polygon points="522.39,241.49 525.65,239.68 525.65,243.3" fill="#71ae20"/>
<polygon points="535.59,239.77 538.85,237.96 538.85,241.58" fill="#71ae20"/>
<polyline points="76.3,347 89.6,346.4 102.8,343 116,341 128.7,339.5 142,339 155.8,339.5 162.4,340 169,312 188.2,298.2 202.4,290.7 215.3,281.8 228.2,277.5 241.2,272.5 254,266.5 267,262 281.2,257.1 294,260.6 307,256 320,252 333,248 346,245 360,243 373,243.5 386,245 399.2,246.5 412.4,244 425.6,245.51 438.8,243.01 452,244.51 465.2,242.01 478.4,243.51 491.6,241.02 504.8,242.52 518,240.02 531.2,241.52 544.4,239.02" fill="none" stroke="#f6962a" stroke-width="1" stroke-linejoin="round" stroke-dasharray="1,1.5"/>
<polygon points="76.3,348.81 74.49,345.55 78.11,345.55" fill="#f6962a"/>
<polygon points="89.6,348.21 87.79,344.95 91.41,344.95" fill="#f6962a"/>
<polygon points="102.8,344.81 100.99,341.55 104.61,341.55" fill="#f6962a"/>
<polygon points="116,342.81 114.19,339.55 117.81,339.55" fill="#f6962a"/>
<polygon points="128.7,341.31 126.89,338.05 130.51,338.05" fill="#f6962a"/>
<polygon points="142,340.81 140.19,337.55 143.81,337.55" fill="#f6962a"/>
<polygon points="155.8,341.31 153.99,338.05 157.61,338.05" fill="#f6962a"/>
<polygon points="162.4,341.81 160.59,338.55 164.21,338.55" fill="#f6962a"/>
<polygon points="169,313.81 167.19,310.55 170.81,310.55" fill="#f6962a"/>
<polygon points="188.2,300.01 186.39,296.75 190.01,296.75" fill="#f6962a"/>
<polygon points="202.4,292.51 200.59,289.25 204.21,289.25" fill="#f6962a"/>
<polygon points="215.3,283.61 213.49,280.35 217.11,280.35" fill="#f6962a"/>
<polygon points="228.2,279.31 226.39,276.05 230.01,276.05" fill="#f6962a"/>
<polygon points="241.2,274.31 239.39,271.05 243.01,271.05" fill="#f6962a"/>
<polygon points="254,268.31 252.19,265.05 255.81,265.05" fill="#f6962a"/>
<polygon points="267,263.81 265.19,260.55 268.81,260.55" fill="#f6962a"/>
<polygon points="281.2,258.91 279.39,255.65 283.01,255.65" fill="#f6962a"/>
<polygon points="294,262.41 292.19,259.15 295.81,259.15" fill="#f6962a"/>
<polygon points="307,257.81 305.19,254.55 308.81,254.55" fill="#f6962a"/>
<polygon points="320,253.81 318.19,250.55 321.81,250.55" fill="#f6962a"/>
<polygon points="333,249.81 331.19,246.55 334.81,246.55" fill="#f6962a"/>
<polygon points="346,246.81 344.19,243.55 347.81,243.55" fill="#f6962a"/>
<polygon points="360,244.81 358.19,241.55 361.81,241.55" fill="#f6962a"/>
<polygon points="373,245.31 371.19,242.05 374.81,242.05" fill="#f6962a"/>
<polygon points="386,246.81 384.19,243.55 387.81,243.55" fill="#f6962a"/>
<polygon points="399.2,248.31 397.39,245.05 401.01,245.05" fill="#f6962a"/>
<polygon points="412.4,245.82 410.59,242.55 414.21,242.55" fill="#f6962a"/>
<polygon points="425.6,247.32 423.79,244.06 427.41,244.06" fill="#f6962a"/>
<polygon points="438.8,244.82 436.99,241.56 440.61,241.56" fill="#f6962a"/>
<polygon points="452,246.32 450.19,243.06 453.81,243.06" fill="#f6962a"/>
<polygon points="465.2,243.82 463.39,240.56 467.01,240.56" fill="#f6962a"/>
<polygon points="478.4,245.33 476.59,242.06 480.21,242.06" fill="#f6962a"/>
<polygon points="491.6,242.83 489.79,239.57 493.41,239.57" fill="#f6962a"/>
<polygon points="504.8,244.33 502.99,241.07 506.61,241.07" fill="#f6962a"/>
<polygon points="518,241.83 516.19,238.57 519.81,238.57" fill="#f6962a"/>
<polygon points="531.2,243.33 529.39,240.07 533.01,240.07" fill="#f6962a"/>
<polygon points="544.4,240.84 542.59,237.57 546.21,237.57" fill="#f6962a"/>
<polyline points="76.3,344.8 89.6,346 102.8,344 116,342 128.7,340.5 142,339 155.8,339.5 162.4,339.5 168.9,310 182.4,300.1 195.3,294.7 208,288 215.3,282.2 228.2,277.1 241.2,273.5 254.1,267.6 267,260.1 281.2,257.1 288.2,253.1 300,252.4 313,249.5 326,246.5 340,244 353,242 366,241 379,240.4 392.2,241.56 405.4,240.32 418.6,241.48 431.8,240.24 445,241.4 458.2,240.16 471.4,241.32 484.6,240.08 497.8,241.24 511,240 524.2,241.16 537.4,239.92" fill="none" stroke="#f65823" stroke-width="1" stroke-linejoin="round" stroke-dasharray="2,1.5"/>
<polygon points="76.3,342.99 74.49,346.25 78.11,346.25" fill="#f65823"/>
<polygon points="89.6,344.19 87.79,347.45 91.41,347.45" fill="#f65823"/>
<polygon points="102.8,342.19 100.99,345.45 104.61,345.45" fill="#f65823"/>
<polygon points="116,340.19 114.19,343.45 117.81,343.45" fill="#f65823"/>
<polygon points="128.7,338.69 126.89,341.95 130.51,341.95" fill="#f65823"/>
<polygon points="142,337.19 140.19,340.45 143.81,340.45" fill="#f65823"/>
<polygon points="155.8,337.69 153.99,340.95 157.61,340.95" fill="#f65823"/>
<polygon points="162.4,337.69 160.59,340.95 164.21,340.95" fill="#f65823"/>
<polygon points="168.9,308.19 167.09,311.45 170.71,311.45" fill="#f65823"/>
<polygon points="182.4,298.29 180.59,301.55 184.21,301.55" fill="#f65823"/>
<polygon points="195.3,292.89 193.49,296.15 197.11,296.15" fill="#f65823"/>
<polygon points="208,286.19 206.19,289.45 209.81,289.45" fill="#f65823"/>
<polygon points="215.3,280.39 213.49,283.65 217.11,283.65" fill="#f65823"/>
<polygon points="228.2,275.29 226.39,278.55 230.01,278.55" fill="#f65823"/>
<polygon points="241.2,271.69 239.39,274.95 243.01,274.95" fill="#f65823"/>
<polygon points="254.1,265.79 252.29,269.05 255.91,269.05" fill="#f65823"/>
<polygon points="267,258.29 265.19,261.55 268.81,261.55" fill="#f65823"/>
<polygon points="281.2,255.29 279.39,258.55 283.01,258.55" fill="#f65823"/>
<polygon points="288.2,251.29 286.39,254.55 290.01,254.55" fill="#f65823"/>
<polygon points="300,250.59 298.19,253.85 301.81,253.85" fill="#f65823"/>
<polygon points="313,247.69 311.19,250.95 314.81,250.95" fill="#f65823"/>
<polygon points="326,244.69 324.19,247.95 327.81,247.95" fill="#f65823"/>
<polygon points="340,242.19 338.19,245.45 341.81,245.45" fill="#f65823"/>
<polygon points="353,240.19 351.19,243.45 354.81,243.45" fill="#f65823"/>
<polygon points="366,239.19 364.19,242.45 367.81,242.45" fill="#f65823"/>
<polygon points="379,238.59 377.19,241.85 380.81,241.85" fill="#f65823"/>
<polygon points="392.2,239.75 390.39,243.01 394.01,243.01" fill="#f65823"/>
<polygon points="405.4,238.51 403.59,241.77 407.21,241.77" fill="#f65823"/>
<polygon points="418.6,239.67 416.79,242.93 420.41,242.93" fill="#f65823"/>
<polygon points="431.8,238.43 429.99,241.69 433.61,241.69" fill="#f65823"/>
<polygon points="445,239.59 443.19,242.85 446.81,242.85" fill="#f65823"/>
<polygon points="458.2,238.35 456.39,241.61 460.01,241.61" fill="#f65823"/>
<polygon points="471.4,239.51 469.59,242.77 473.21,242.77" fill="#f65823"/>
<polygon points="484.6,238.27 482.79,241.53 486.41,241.53" fill="#f65823"/>
<polygon points="497.8,239.43 495.99,242.69 499.61,242.69" fill="#f65823"/>
<polygon points="511,238.19 509.19,241.45 512.81,241.45" fill="#f65823"/>
<polygon points="524.2,239.35 522.39,242.61 526.01,242.61" fill="#f65823"/>
<polygon points="537.4,238.11 535.59,241.37 539.21,241.37" fill="#f65823"/>
<polyline points="76.8,348.4 89.6,342 103,336.2 116.3,332.2 129.2,331 142.6,331.2 155.8,325.3 162.4,320.8 168.7,345 181.9,346 195,347.7 208.4,349.5 228,352.7 241.2,350.7 268.4,353 280,346.7 294.8,340 307.2,339.3 320.8,336.8 333.1,334.9 340.5,333.1 352.9,327.4 366.5,321.5 380.1,321.5 393.2,311.6 399.8,310.1 406.5,306.7 419.6,296.1 432.4,294.7 446,288.8 459.5,279.4 471.9,270.8 485.5,262.1 499,259.7 511.4,252.7 525,245.3 538.6,238.6 544.8,234.9" fill="none" stroke="#3c2688" stroke-width="1.1" stroke-linejoin="round"/>
<circle cx="76.8" cy="348.4" r="1.4" fill="#3c2688"/>
<circle cx="89.6" cy="342" r="1.4" fill="#3c2688"/>
<circle cx="103" cy="336.2" r="1.4" fill="#3c2688"/>
<circle cx="116.3" cy="332.2" r="1.4" fill="#3c2688"/>
<circle cx="129.2" cy="331" r="1.4" fill="#3c2688"/>
<circle cx="142.6" cy="331.2" r="1.4" fill="#3c2688"/>
<circle cx="155.8" cy="325.3" r="1.4" fill="#3c2688"/>
<circle cx="162.4" cy="320.8" r="1.4" fill="#3c2688"/>
<circle cx="168.7" cy="345" r="1.4" fill="#3c2688"/>
<circle cx="181.9" cy="346" r="1.4" fill="#3c2688"/>
<circle cx="195" cy="347.7" r="1.4" fill="#3c2688"/>
<circle cx="208.4" cy="349.5" r="1.4" fill="#3c2688"/>
<circle cx="228" cy="352.7" r="1.4" fill="#3c2688"/>
<circle cx="241.2" cy="350.7" r="1.4" fill="#3c2688"/>
<circle cx="268.4" cy="353" r="1.4" fill="#3c2688"/>
<circle cx="280" cy="346.7" r="1.4" fill="#3c2688"/>
<circle cx="294.8" cy="340" r="1.4" fill="#3c2688"/>
<circle cx="307.2" cy="339.3" r="1.4" fill="#3c2688"/>
<circle cx="320.8" cy="336.8" r="1.4" fill="#3c2688"/>
<circle cx="333.1" cy="334.9" r="1.4" fill="#3c2688"/>
<circle cx="340.5" cy="333.1" r="1.4" fill="#3c2688"/>
<circle cx="352.9" cy="327.4" r="1.4" fill="#3c2688"/>
<circle cx="366.5" cy="321.5" r="1.4" fill="#3c2688"/>
<circle cx="380.1" cy="321.5" r="1.4" fill="#3c2688"/>
<circle cx="393.2" cy="311.6" r="1.4" fill="#3c2688"/>
<circle cx="399.8" cy="310.1" r="1.4" fill="#3c2688"/>
<circle cx="406.5" cy="306.7" r="1.4" fill="#3c2688"/>
<circle cx="419.6" cy="296.1" r="1.4" fill="#3c2688"/>
<circle cx="432.4" cy="294.7" r="1.4" fill="#3c2688"/>
<circle cx="446" cy="288.8" r="1.4" fill="#3c2688"/>
<circle cx="459.5" cy="279.4" r="1.4" fill="#3c2688"/>
<circle cx="471.9" cy="270.8" r="1.4" fill="#3c2688"/>
<circle cx="485.5" cy="262.1" r="1.4" fill="#3c2688"/>
<circle cx="499" cy="259.7" r="1.4" fill="#3c2688"/>
<circle cx="511.4" cy="252.7" r="1.4" fill="#3c2688"/>
<circle cx="525" cy="245.3" r="1.4" fill="#3c2688"/>
<circle cx="538.6" cy="238.6" r="1.4" fill="#3c2688"/>
<circle cx="544.8" cy="234.9" r="1.4" fill="#3c2688"/>
<polyline points="76.3,351 89.6,343.5 102.8,337.5 116,333 128.7,330.5 142,328 155.8,322 158,322.5 168.8,350.4 176,351.8 182,352.3 195,350.5 208.4,351.5 221,354 235,355.7 247.6,357.4 261.5,356.4 274.6,343 288,343 300,343.5 313,342.5 327,340 340.5,336.8 354,333.1 366.5,329.4 380,320.8 393.7,316.6 407.3,309.7 419.6,302.2 433.6,295.5 446,286.8 459.5,281.9 471.9,273.2 485.5,268.3 499,257.2 511.4,252 525,245 538.6,238.6 544.8,238" fill="none" stroke="#71ae20" stroke-width="1.1" stroke-linejoin="round"/>
<polygon points="76.3,349.25 74.55,352.4 78.05,352.4" fill="#71ae20"/>
<polygon points="89.6,341.75 87.85,344.9 91.35,344.9" fill="#71ae20"/>
<polygon points="102.8,335.75 101.05,338.9 104.55,338.9" fill="#71ae20"/>
<polygon points="116,331.25 114.25,334.4 117.75,334.4" fill="#71ae20"/>
<polygon points="128.7,328.75 126.95,331.9 130.45,331.9" fill="#71ae20"/>
<polygon points="142,326.25 140.25,329.4 143.75,329.4" fill="#71ae20"/>
<polygon points="155.8,320.25 154.05,323.4 157.55,323.4" fill="#71ae20"/>
<polygon points="158,320.75 156.25,323.9 159.75,323.9" fill="#71ae20"/>
<polygon points="168.8,348.65 167.05,351.8 170.55,351.8" fill="#71ae20"/>
<polygon points="176,350.05 174.25,353.2 177.75,353.2" fill="#71ae20"/>
<polygon points="182,350.55 180.25,353.7 183.75,353.7" fill="#71ae20"/>
<polygon points="195,348.75 193.25,351.9 196.75,351.9" fill="#71ae20"/>
<polygon points="208.4,349.75 206.65,352.9 210.15,352.9" fill="#71ae20"/>
<polygon points="221,352.25 219.25,355.4 222.75,355.4" fill="#71ae20"/>
<polygon points="235,353.95 233.25,357.1 236.75,357.1" fill="#71ae20"/>
<polygon points="247.6,355.65 245.85,358.8 249.35,358.8" fill="#71ae20"/>
<polygon points="261.5,354.65 259.75,357.8 263.25,357.8" fill="#71ae20"/>
<polygon points="274.6,341.25 272.85,344.4 276.35,344.4" fill="#71ae20"/>
<polygon points="288,341.25 286.25,344.4 289.75,344.4" fill="#71ae20"/>
<polygon points="300,341.75 298.25,344.9 301.75,344.9" fill="#71ae20"/>
<polygon points="313,340.75 311.25,343.9 314.75,343.9" fill="#71ae20"/>
<polygon points="327,338.25 325.25,341.4 328.75,341.4" fill="#71ae20"/>
<polygon points="340.5,335.05 338.75,338.2 342.25,338.2" fill="#71ae20"/>
<polygon points="354,331.35 352.25,334.5 355.75,334.5" fill="#71ae20"/>
<polygon points="366.5,327.65 364.75,330.8 368.25,330.8" fill="#71ae20"/>
<polygon points="380,319.05 378.25,322.2 381.75,322.2" fill="#71ae20"/>
<polygon points="393.7,314.85 391.95,318 395.45,318" fill="#71ae20"/>
<polygon points="407.3,307.95 405.55,311.1 409.05,311.1" fill="#71ae20"/>
<polygon points="419.6,300.45 417.85,303.6 421.35,303.6" fill="#71ae20"/>
<polygon points="433.6,293.75 431.85,296.9 435.35,296.9" fill="#71ae20"/>
<polygon points="446,285.05 444.25,288.2 447.75,288.2" fill="#71ae20"/>
<polygon points="459.5,280.15 457.75,283.3 461.25,283.3" fill="#71ae20"/>
<polygon points="471.9,271.45 470.15,274.6 473.65,274.6" fill="#71ae20"/>
<polygon points="485.5,266.55 483.75,269.7 487.25,269.7" fill="#71ae20"/>
<polygon points="499,255.45 497.25,258.6 500.75,258.6" fill="#71ae20"/>
<polygon points="511.4,250.25 509.65,253.4 513.15,253.4" fill="#71ae20"/>
<polygon points="525,243.25 523.25,246.4 526.75,246.4" fill="#71ae20"/>
<polygon points="538.6,236.85 536.85,240 540.35,240" fill="#71ae20"/>
<polygon points="544.8,236.25 543.05,239.4 546.55,239.4" fill="#71ae20"/>
<polyline points="76.3,350 89.6,344 102.8,339 116,335 128.7,332 142,329 155.8,324 162.4,319.5 169,348 176,352 188.8,354 201.5,356.4 215.4,359.2 229,358.7 241,358 254.6,356.4 268,355 281,355 293.6,346.2 307.2,343.8 320,341 333,336 346.7,332.4 360.3,333.1 373.9,327 386.3,317 401,311.6 414.7,304.7 428.3,296 438.5,294.7 452,290.5 465.7,280 479,272 492,266 505,258 518.8,249 532,241.5 538.6,238.6 544.8,236" fill="none" stroke="#f6962a" stroke-width="1.1" stroke-linejoin="round"/>
<polygon points="76.3,348.25 74.55,351.4 78.05,351.4" fill="#f6962a"/>
<polygon points="89.6,342.25 87.85,345.4 91.35,345.4" fill="#f6962a"/>
<polygon points="102.8,337.25 101.05,340.4 104.55,340.4" fill="#f6962a"/>
<polygon points="116,333.25 114.25,336.4 117.75,336.4" fill="#f6962a"/>
<polygon points="128.7,330.25 126.95,333.4 130.45,333.4" fill="#f6962a"/>
<polygon points="142,327.25 140.25,330.4 143.75,330.4" fill="#f6962a"/>
<polygon points="155.8,322.25 154.05,325.4 157.55,325.4" fill="#f6962a"/>
<polygon points="162.4,317.75 160.65,320.9 164.15,320.9" fill="#f6962a"/>
<polygon points="169,346.25 167.25,349.4 170.75,349.4" fill="#f6962a"/>
<polygon points="176,350.25 174.25,353.4 177.75,353.4" fill="#f6962a"/>
<polygon points="188.8,352.25 187.05,355.4 190.55,355.4" fill="#f6962a"/>
<polygon points="201.5,354.65 199.75,357.8 203.25,357.8" fill="#f6962a"/>
<polygon points="215.4,357.45 213.65,360.6 217.15,360.6" fill="#f6962a"/>
<polygon points="229,356.95 227.25,360.1 230.75,360.1" fill="#f6962a"/>
<polygon points="241,356.25 239.25,359.4 242.75,359.4" fill="#f6962a"/>
<polygon points="254.6,354.65 252.85,357.8 256.35,357.8" fill="#f6962a"/>
<polygon points="268,353.25 266.25,356.4 269.75,356.4" fill="#f6962a"/>
<polygon points="281,353.25 279.25,356.4 282.75,356.4" fill="#f6962a"/>
<polygon points="293.6,344.45 291.85,347.6 295.35,347.6" fill="#f6962a"/>
<polygon points="307.2,342.05 305.45,345.2 308.95,345.2" fill="#f6962a"/>
<polygon points="320,339.25 318.25,342.4 321.75,342.4" fill="#f6962a"/>
<polygon points="333,334.25 331.25,337.4 334.75,337.4" fill="#f6962a"/>
<polygon points="346.7,330.65 344.95,333.8 348.45,333.8" fill="#f6962a"/>
<polygon points="360.3,331.35 358.55,334.5 362.05,334.5" fill="#f6962a"/>
<polygon points="373.9,325.25 372.15,328.4 375.65,328.4" fill="#f6962a"/>
<polygon points="386.3,315.25 384.55,318.4 388.05,318.4" fill="#f6962a"/>
<polygon points="401,309.85 399.25,313 402.75,313" fill="#f6962a"/>
<polygon points="414.7,302.95 412.95,306.1 416.45,306.1" fill="#f6962a"/>
<polygon points="428.3,294.25 426.55,297.4 430.05,297.4" fill="#f6962a"/>
<polygon points="438.5,292.95 436.75,296.1 440.25,296.1" fill="#f6962a"/>
<polygon points="452,288.75 450.25,291.9 453.75,291.9" fill="#f6962a"/>
<polygon points="465.7,278.25 463.95,281.4 467.45,281.4" fill="#f6962a"/>
<polygon points="479,270.25 477.25,273.4 480.75,273.4" fill="#f6962a"/>
<polygon points="492,264.25 490.25,267.4 493.75,267.4" fill="#f6962a"/>
<polygon points="505,256.25 503.25,259.4 506.75,259.4" fill="#f6962a"/>
<polygon points="518.8,247.25 517.05,250.4 520.55,250.4" fill="#f6962a"/>
<polygon points="532,239.75 530.25,242.9 533.75,242.9" fill="#f6962a"/>
<polygon points="538.6,236.85 536.85,240 540.35,240" fill="#f6962a"/>
<polygon points="544.8,234.25 543.05,237.4 546.55,237.4" fill="#f6962a"/>
<polyline points="76.3,349 89.6,344 102.8,340 116,336 128.7,333 142,330 155.8,325 162.4,321 169,348.8 182,352 194.6,353.4 208,354 221,354 235,355 248,356 261,357 268.4,358 280,354 288.6,356.1 304.7,350.4 320.8,344.2 333.1,339.8 346.7,338.8 360.3,335.6 373.9,329.4 386.3,323.2 399.8,318.3 413.4,310.9 420,308.6 426.2,304.1 438.5,294.2 452.1,289.3 465.7,277 479.3,269.5 492.9,264.6 505.2,257.7 518.8,248.5 532.4,241.1 538.6,238.6 544.8,236" fill="none" stroke="#f65823" stroke-width="1.1" stroke-linejoin="round"/>
<circle cx="76.3" cy="349" r="1.4" fill="#f65823"/>
<circle cx="89.6" cy="344" r="1.4" fill="#f65823"/>
<circle cx="102.8" cy="340" r="1.4" fill="#f65823"/>
<circle cx="116" cy="336" r="1.4" fill="#f65823"/>
<circle cx="128.7" cy="333" r="1.4" fill="#f65823"/>
<circle cx="142" cy="330" r="1.4" fill="#f65823"/>
<circle cx="155.8" cy="325" r="1.4" fill="#f65823"/>
<circle cx="162.4" cy="321" r="1.4" fill="#f65823"/>
<circle cx="169" cy="348.8" r="1.4" fill="#f65823"/>
<circle cx="182" cy="352" r="1.4" fill="#f65823"/>
<circle cx="194.6" cy="353.4" r="1.4" fill="#f65823"/>
<circle cx="208" cy="354" r="1.4" fill="#f65823"/>
<circle cx="221" cy="354" r="1.4" fill="#f65823"/>
<circle cx="235" cy="355" r="1.4" fill="#f65823"/>
<circle cx="248" cy="356" r="1.4" fill="#f65823"/>
<circle cx="261" cy="357" r="1.4" fill="#f65823"/>
<circle cx="268.4" cy="358" r="1.4" fill="#f65823"/>
<circle cx="280" cy="354" r="1.4" fill="#f65823"/>
<circle cx="288.6" cy="356.1" r="1.4" fill="#f65823"/>
<circle cx="304.7" cy="350.4" r="1.4" fill="#f65823"/>
<circle cx="320.8" cy="344.2" r="1.4" fill="#f65823"/>
<circle cx="333.1" cy="339.8" r="1.4" fill="#f65823"/>
<circle cx="346.7" cy="338.8" r="1.4" fill="#f65823"/>
<circle cx="360.3" cy="335.6" r="1.4" fill="#f65823"/>
<circle cx="373.9" cy="329.4" r="1.4" fill="#f65823"/>
<circle cx="386.3" cy="323.2" r="1.4" fill="#f65823"/>
<circle cx="399.8" cy="318.3" r="1.4" fill="#f65823"/>
<circle cx="413.4" cy="310.9" r="1.4" fill="#f65823"/>
<circle cx="420" cy="308.6" r="1.4" fill="#f65823"/>
<circle cx="426.2" cy="304.1" r="1.4" fill="#f65823"/>
<circle cx="438.5" cy="294.2" r="1.4" fill="#f65823"/>
<circle cx="452.1" cy="289.3" r="1.4" fill="#f65823"/>
<circle cx="465.7" cy="277" r="1.4" fill="#f65823"/>
<circle cx="479.3" cy="269.5" r="1.4" fill="#f65823"/>
<circle cx="492.9" cy="264.6" r="1.4" fill="#f65823"/>
<circle cx="505.2" cy="257.7" r="1.4" fill="#f65823"/>
<circle cx="518.8" cy="248.5" r="1.4" fill="#f65823"/>
<circle cx="532.4" cy="241.1" r="1.4" fill="#f65823"/>
<circle cx="538.6" cy="238.6" r="1.4" fill="#f65823"/>
<circle cx="544.8" cy="236" r="1.4" fill="#f65823"/>
<rect x="61.5" y="309" width="72.5" height="3" fill="#000"/>
<rect x="131" y="233.8" width="3" height="78.2" fill="#000"/>
<rect x="60" y="231" width="71" height="78" fill="#fff"/>
<line x1="63.8" y1="236.6" x2="82" y2="236.6" stroke="#f65823" stroke-width="1.1"/>
<polyline points="73,236.6" fill="none" stroke="#f65823" stroke-width="0.1" stroke-linejoin="round"/>
<circle cx="73" cy="236.6" r="1.6" fill="#f65823"/>
<text x="84.2" y="239.4" font-size="7.6" text-anchor="start" font-family="'Liberation Sans', sans-serif" fill="#000" stroke="#000" stroke-width="0.12">βs @ 4</text>
<text x="115.8" y="239.4" font-size="7.6" text-anchor="start" font-family="'Liberation Sans', sans-serif" fill="#000" stroke="#000" stroke-width="0.12">m/s</text>
<line x1="63.8" y1="246.34" x2="82" y2="246.34" stroke="#f6962a" stroke-width="1.1"/>
<polyline points="73,246.34" fill="none" stroke="#f6962a" stroke-width="0.1" stroke-linejoin="round"/>
<polygon points="73,244.34 71,247.94 75,247.94" fill="#f6962a"/>
<text x="84.2" y="249.14" font-size="7.6" text-anchor="start" font-family="'Liberation Sans', sans-serif" fill="#000" stroke="#000" stroke-width="0.12">βs @ 8</text>
<text x="115.8" y="249.14" font-size="7.6" text-anchor="start" font-family="'Liberation Sans', sans-serif" fill="#000" stroke="#000" stroke-width="0.12">m/s</text>
<line x1="63.8" y1="256.08" x2="82" y2="256.08" stroke="#71ae20" stroke-width="1.1"/>
<polyline points="73,256.08" fill="none" stroke="#71ae20" stroke-width="0.1" stroke-linejoin="round"/>
<polygon points="73,254.08 71,257.68 75,257.68" fill="#71ae20"/>
<text x="84.2" y="258.88" font-size="7.6" text-anchor="start" font-family="'Liberation Sans', sans-serif" fill="#000" stroke="#000" stroke-width="0.12">βs @ 12</text>
<text x="115.8" y="258.88" font-size="7.6" text-anchor="start" font-family="'Liberation Sans', sans-serif" fill="#000" stroke="#000" stroke-width="0.12">m/s</text>
<line x1="63.8" y1="265.82" x2="82" y2="265.82" stroke="#3c2688" stroke-width="1.1"/>
<polyline points="73,265.82" fill="none" stroke="#3c2688" stroke-width="0.1" stroke-linejoin="round"/>
<circle cx="73" cy="265.82" r="1.6" fill="#3c2688"/>
<text x="84.2" y="268.62" font-size="7.6" text-anchor="start" font-family="'Liberation Sans', sans-serif" fill="#000" stroke="#000" stroke-width="0.12">βs @ 16</text>
<text x="115.8" y="268.62" font-size="7.6" text-anchor="start" font-family="'Liberation Sans', sans-serif" fill="#000" stroke="#000" stroke-width="0.12">m/s</text>
<line x1="63.8" y1="275.56" x2="82" y2="275.56" stroke="#f65823" stroke-width="1.1" stroke-dasharray="2,1.5"/>
<polyline points="73,275.56" fill="none" stroke="#f65823" stroke-width="0.1" stroke-linejoin="round"/>
<polygon points="73,273.56 71,277.16 75,277.16" fill="#f65823"/>
<text x="84.2" y="278.36" font-size="7.6" text-anchor="start" font-family="'Liberation Sans', sans-serif" fill="#000" stroke="#000" stroke-width="0.12">αs @ 4</text>
<text x="115.8" y="278.36" font-size="7.6" text-anchor="start" font-family="'Liberation Sans', sans-serif" fill="#000" stroke="#000" stroke-width="0.12">m/s</text>
<line x1="63.8" y1="285.3" x2="82" y2="285.3" stroke="#f6962a" stroke-width="1.1" stroke-dasharray="1,1.5"/>
<polyline points="73,285.3" fill="none" stroke="#f6962a" stroke-width="0.1" stroke-linejoin="round"/>
<polygon points="73,287.3 71,283.7 75,283.7" fill="#f6962a"/>
<text x="84.2" y="288.1" font-size="7.6" text-anchor="start" font-family="'Liberation Sans', sans-serif" fill="#000" stroke="#000" stroke-width="0.12">αs @ 8</text>
<text x="115.8" y="288.1" font-size="7.6" text-anchor="start" font-family="'Liberation Sans', sans-serif" fill="#000" stroke="#000" stroke-width="0.12">m/s</text>
<line x1="63.8" y1="295.04" x2="82" y2="295.04" stroke="#71ae20" stroke-width="1.1" stroke-dasharray="2,1.6"/>
<polyline points="73,295.04" fill="none" stroke="#71ae20" stroke-width="0.1" stroke-linejoin="round"/>
<polygon points="71,295.04 74.6,293.04 74.6,297.04" fill="#71ae20"/>
<text x="84.2" y="297.84" font-size="7.6" text-anchor="start" font-family="'Liberation Sans', sans-serif" fill="#000" stroke="#000" stroke-width="0.12">αs @ 12</text>
<text x="115.8" y="297.84" font-size="7.6" text-anchor="start" font-family="'Liberation Sans', sans-serif" fill="#000" stroke="#000" stroke-width="0.12">m/s</text>
<line x1="63.8" y1="304.78" x2="82" y2="304.78" stroke="#3c2688" stroke-width="1.1" stroke-dasharray="1.6,1.6"/>
<polyline points="73,304.78" fill="none" stroke="#3c2688" stroke-width="0.1" stroke-linejoin="round"/>
<polygon points="71,304.78 74.6,302.78 74.6,306.78" fill="#3c2688"/>
<text x="84.2" y="307.58" font-size="7.6" text-anchor="start" font-family="'Liberation Sans', sans-serif" fill="#000" stroke="#000" stroke-width="0.12">αs @ 16</text>
<text x="115.8" y="307.58" font-size="7.6" text-anchor="start" font-family="'Liberation Sans', sans-serif" fill="#000" stroke="#000" stroke-width="0.12">m/s</text>
</svg>
</body></html>
